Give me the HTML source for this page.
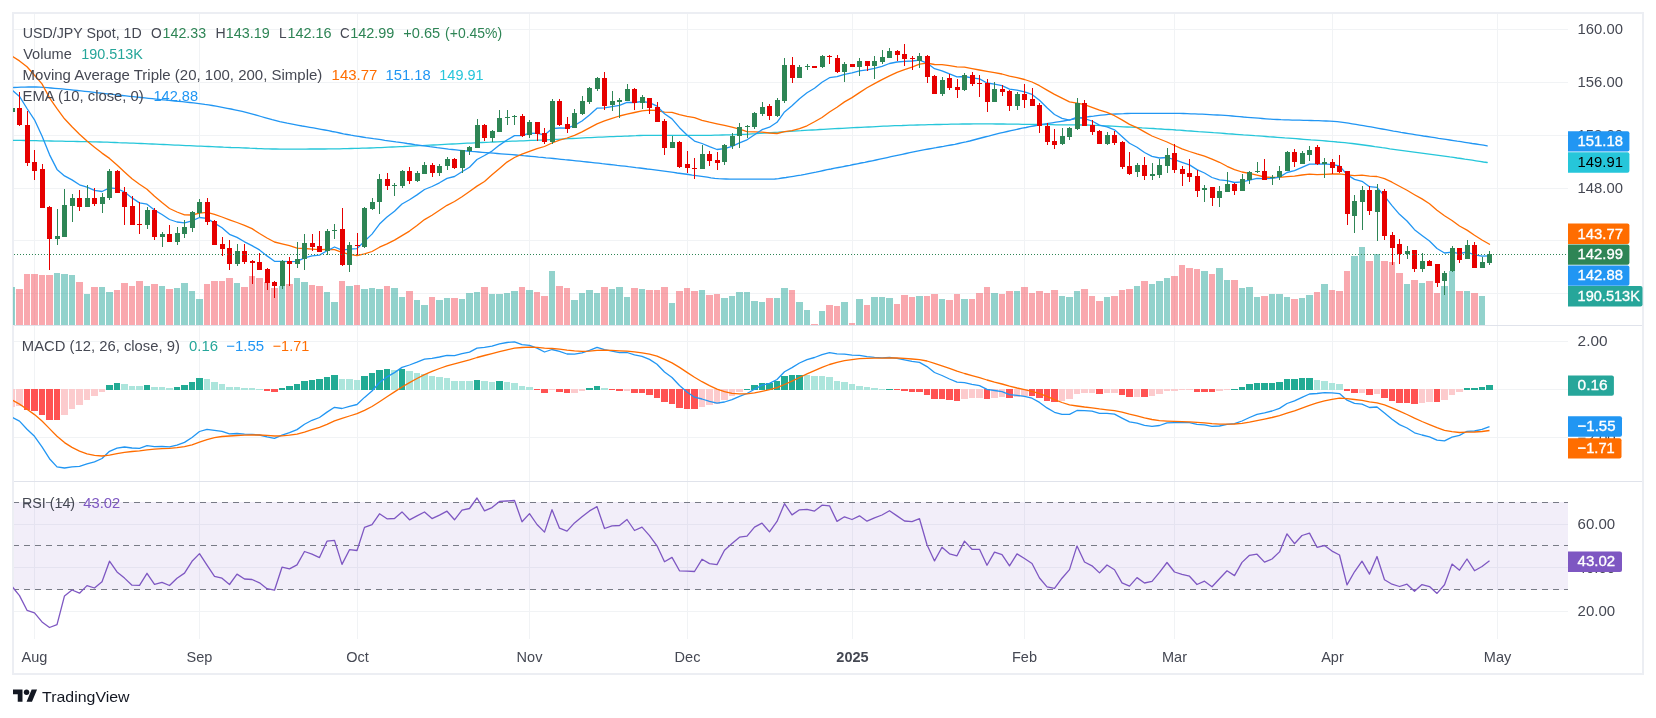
<!DOCTYPE html><html><head><meta charset="utf-8"><title>USD/JPY</title><style>html,body{margin:0;padding:0;background:#fff;width:1656px;height:718px;overflow:hidden}</style></head><body><svg width="1656" height="718" viewBox="0 0 1656 718" style="position:absolute;left:0;top:0;will-change:transform;font-family:'Liberation Sans',sans-serif">
<rect x="0" y="0" width="1656" height="718" fill="#fff"/>
<g shape-rendering="crispEdges" fill="#f1f3f5">
<rect x="34" y="13" width="1" height="626"/>
<rect x="199" y="13" width="1" height="626"/>
<rect x="357" y="13" width="1" height="626"/>
<rect x="529" y="13" width="1" height="626"/>
<rect x="687" y="13" width="1" height="626"/>
<rect x="852" y="13" width="1" height="626"/>
<rect x="1024" y="13" width="1" height="626"/>
<rect x="1174" y="13" width="1" height="626"/>
<rect x="1332" y="13" width="1" height="626"/>
<rect x="1497" y="13" width="1" height="626"/>
<rect x="14" y="29" width="1554" height="1"/>
<rect x="14" y="82" width="1554" height="1"/>
<rect x="14" y="135" width="1554" height="1"/>
<rect x="14" y="188" width="1554" height="1"/>
<rect x="14" y="240" width="1554" height="1"/>
<rect x="14" y="293" width="1554" height="1"/>
<rect x="14" y="341" width="1554" height="1"/>
<rect x="14" y="389" width="1554" height="1"/>
<rect x="14" y="437" width="1554" height="1"/>
<rect x="14" y="524" width="1554" height="1"/>
<rect x="14" y="567" width="1554" height="1"/>
<rect x="14" y="611" width="1554" height="1"/>
</g>
<rect x="14" y="502" width="1554" height="87.5" fill="#7e57c2" fill-opacity="0.1" shape-rendering="crispEdges"/>
<g shape-rendering="crispEdges" fill="#e0e3eb">
<g fill="#eceef3"><rect x="12" y="12" width="1632" height="2"/><rect x="12" y="673" width="1632" height="2"/><rect x="12" y="12" width="2" height="663"/><rect x="1642" y="12" width="2" height="663"/></g>
<rect x="14" y="325" width="1628" height="1"/>
<rect x="14" y="481" width="1628" height="1"/>
</g>
<defs><clipPath id="cp"><rect x="13" y="14" width="1555" height="311"/></clipPath><clipPath id="cm"><rect x="13" y="326" width="1555" height="155"/></clipPath><clipPath id="cr"><rect x="13" y="482" width="1555" height="156"/></clipPath></defs>
<g clip-path="url(#cp)" shape-rendering="crispEdges">
<rect x="9" y="287" width="6" height="38" fill="#26a69a" fill-opacity="0.5"/>
<rect x="16" y="289" width="7" height="36" fill="#f4525e" fill-opacity="0.5"/>
<rect x="24" y="274" width="6" height="51" fill="#f4525e" fill-opacity="0.5"/>
<rect x="31" y="274" width="7" height="51" fill="#f4525e" fill-opacity="0.5"/>
<rect x="39" y="275" width="6" height="50" fill="#f4525e" fill-opacity="0.5"/>
<rect x="46" y="275" width="7" height="50" fill="#f4525e" fill-opacity="0.5"/>
<rect x="54" y="273" width="6" height="52" fill="#26a69a" fill-opacity="0.5"/>
<rect x="61" y="274" width="7" height="51" fill="#26a69a" fill-opacity="0.5"/>
<rect x="69" y="275" width="6" height="50" fill="#26a69a" fill-opacity="0.5"/>
<rect x="76" y="282" width="7" height="43" fill="#f4525e" fill-opacity="0.5"/>
<rect x="84" y="294" width="6" height="31" fill="#26a69a" fill-opacity="0.5"/>
<rect x="91" y="287" width="7" height="38" fill="#f4525e" fill-opacity="0.5"/>
<rect x="99" y="287" width="6" height="38" fill="#26a69a" fill-opacity="0.5"/>
<rect x="106" y="292" width="7" height="33" fill="#26a69a" fill-opacity="0.5"/>
<rect x="114" y="290" width="6" height="35" fill="#f4525e" fill-opacity="0.5"/>
<rect x="121" y="283" width="7" height="42" fill="#f4525e" fill-opacity="0.5"/>
<rect x="129" y="286" width="6" height="39" fill="#f4525e" fill-opacity="0.5"/>
<rect x="136" y="281" width="7" height="44" fill="#f4525e" fill-opacity="0.5"/>
<rect x="144" y="286" width="6" height="39" fill="#26a69a" fill-opacity="0.5"/>
<rect x="151" y="284" width="7" height="41" fill="#f4525e" fill-opacity="0.5"/>
<rect x="159" y="286" width="6" height="39" fill="#26a69a" fill-opacity="0.5"/>
<rect x="166" y="289" width="7" height="36" fill="#f4525e" fill-opacity="0.5"/>
<rect x="174" y="288" width="6" height="37" fill="#26a69a" fill-opacity="0.5"/>
<rect x="181" y="283" width="7" height="42" fill="#26a69a" fill-opacity="0.5"/>
<rect x="189" y="291" width="6" height="34" fill="#26a69a" fill-opacity="0.5"/>
<rect x="196" y="299" width="7" height="26" fill="#26a69a" fill-opacity="0.5"/>
<rect x="204" y="284" width="6" height="41" fill="#f4525e" fill-opacity="0.5"/>
<rect x="211" y="281" width="7" height="44" fill="#f4525e" fill-opacity="0.5"/>
<rect x="219" y="281" width="6" height="44" fill="#f4525e" fill-opacity="0.5"/>
<rect x="226" y="278" width="7" height="47" fill="#f4525e" fill-opacity="0.5"/>
<rect x="234" y="283" width="6" height="42" fill="#26a69a" fill-opacity="0.5"/>
<rect x="241" y="287" width="7" height="38" fill="#f4525e" fill-opacity="0.5"/>
<rect x="249" y="276" width="6" height="49" fill="#f4525e" fill-opacity="0.5"/>
<rect x="256" y="278" width="7" height="47" fill="#f4525e" fill-opacity="0.5"/>
<rect x="264" y="282" width="6" height="43" fill="#f4525e" fill-opacity="0.5"/>
<rect x="271" y="288" width="7" height="37" fill="#f4525e" fill-opacity="0.5"/>
<rect x="279" y="286" width="6" height="39" fill="#26a69a" fill-opacity="0.5"/>
<rect x="286" y="284" width="7" height="41" fill="#f4525e" fill-opacity="0.5"/>
<rect x="294" y="278" width="6" height="47" fill="#26a69a" fill-opacity="0.5"/>
<rect x="301" y="282" width="7" height="43" fill="#26a69a" fill-opacity="0.5"/>
<rect x="309" y="285" width="6" height="40" fill="#f4525e" fill-opacity="0.5"/>
<rect x="316" y="286" width="7" height="39" fill="#f4525e" fill-opacity="0.5"/>
<rect x="324" y="292" width="6" height="33" fill="#26a69a" fill-opacity="0.5"/>
<rect x="331" y="302" width="7" height="23" fill="#26a69a" fill-opacity="0.5"/>
<rect x="339" y="281" width="6" height="44" fill="#f4525e" fill-opacity="0.5"/>
<rect x="346" y="286" width="7" height="39" fill="#26a69a" fill-opacity="0.5"/>
<rect x="354" y="285" width="6" height="40" fill="#f4525e" fill-opacity="0.5"/>
<rect x="361" y="289" width="7" height="36" fill="#26a69a" fill-opacity="0.5"/>
<rect x="369" y="288" width="6" height="37" fill="#26a69a" fill-opacity="0.5"/>
<rect x="376" y="289" width="7" height="36" fill="#26a69a" fill-opacity="0.5"/>
<rect x="384" y="286" width="6" height="39" fill="#f4525e" fill-opacity="0.5"/>
<rect x="391" y="288" width="7" height="37" fill="#26a69a" fill-opacity="0.5"/>
<rect x="399" y="297" width="6" height="28" fill="#26a69a" fill-opacity="0.5"/>
<rect x="406" y="291" width="7" height="34" fill="#f4525e" fill-opacity="0.5"/>
<rect x="414" y="300" width="6" height="25" fill="#26a69a" fill-opacity="0.5"/>
<rect x="421" y="305" width="7" height="20" fill="#26a69a" fill-opacity="0.5"/>
<rect x="429" y="297" width="6" height="28" fill="#f4525e" fill-opacity="0.5"/>
<rect x="436" y="300" width="7" height="25" fill="#26a69a" fill-opacity="0.5"/>
<rect x="444" y="298" width="6" height="27" fill="#26a69a" fill-opacity="0.5"/>
<rect x="451" y="298" width="7" height="27" fill="#f4525e" fill-opacity="0.5"/>
<rect x="459" y="299" width="6" height="26" fill="#26a69a" fill-opacity="0.5"/>
<rect x="466" y="293" width="7" height="32" fill="#26a69a" fill-opacity="0.5"/>
<rect x="474" y="292" width="6" height="33" fill="#26a69a" fill-opacity="0.5"/>
<rect x="481" y="287" width="7" height="38" fill="#f4525e" fill-opacity="0.5"/>
<rect x="489" y="294" width="6" height="31" fill="#26a69a" fill-opacity="0.5"/>
<rect x="496" y="294" width="7" height="31" fill="#26a69a" fill-opacity="0.5"/>
<rect x="504" y="293" width="6" height="32" fill="#26a69a" fill-opacity="0.5"/>
<rect x="511" y="291" width="7" height="34" fill="#26a69a" fill-opacity="0.5"/>
<rect x="519" y="287" width="6" height="38" fill="#f4525e" fill-opacity="0.5"/>
<rect x="526" y="290" width="7" height="35" fill="#26a69a" fill-opacity="0.5"/>
<rect x="534" y="292" width="6" height="33" fill="#f4525e" fill-opacity="0.5"/>
<rect x="541" y="296" width="7" height="29" fill="#f4525e" fill-opacity="0.5"/>
<rect x="549" y="271" width="6" height="54" fill="#26a69a" fill-opacity="0.5"/>
<rect x="556" y="286" width="7" height="39" fill="#f4525e" fill-opacity="0.5"/>
<rect x="564" y="288" width="6" height="37" fill="#f4525e" fill-opacity="0.5"/>
<rect x="571" y="300" width="7" height="25" fill="#26a69a" fill-opacity="0.5"/>
<rect x="579" y="293" width="6" height="32" fill="#26a69a" fill-opacity="0.5"/>
<rect x="586" y="290" width="7" height="35" fill="#26a69a" fill-opacity="0.5"/>
<rect x="594" y="293" width="6" height="32" fill="#26a69a" fill-opacity="0.5"/>
<rect x="601" y="287" width="7" height="38" fill="#f4525e" fill-opacity="0.5"/>
<rect x="609" y="289" width="6" height="36" fill="#26a69a" fill-opacity="0.5"/>
<rect x="616" y="287" width="7" height="38" fill="#26a69a" fill-opacity="0.5"/>
<rect x="624" y="297" width="6" height="28" fill="#26a69a" fill-opacity="0.5"/>
<rect x="631" y="288" width="7" height="37" fill="#f4525e" fill-opacity="0.5"/>
<rect x="639" y="289" width="6" height="36" fill="#26a69a" fill-opacity="0.5"/>
<rect x="646" y="290" width="7" height="35" fill="#f4525e" fill-opacity="0.5"/>
<rect x="654" y="290" width="6" height="35" fill="#f4525e" fill-opacity="0.5"/>
<rect x="661" y="287" width="7" height="38" fill="#f4525e" fill-opacity="0.5"/>
<rect x="669" y="303" width="6" height="22" fill="#26a69a" fill-opacity="0.5"/>
<rect x="676" y="291" width="7" height="34" fill="#f4525e" fill-opacity="0.5"/>
<rect x="684" y="288" width="6" height="37" fill="#f4525e" fill-opacity="0.5"/>
<rect x="691" y="291" width="7" height="34" fill="#f4525e" fill-opacity="0.5"/>
<rect x="699" y="290" width="6" height="35" fill="#26a69a" fill-opacity="0.5"/>
<rect x="706" y="295" width="7" height="30" fill="#f4525e" fill-opacity="0.5"/>
<rect x="714" y="294" width="6" height="31" fill="#f4525e" fill-opacity="0.5"/>
<rect x="721" y="298" width="7" height="27" fill="#26a69a" fill-opacity="0.5"/>
<rect x="729" y="296" width="6" height="29" fill="#26a69a" fill-opacity="0.5"/>
<rect x="736" y="292" width="7" height="33" fill="#26a69a" fill-opacity="0.5"/>
<rect x="744" y="292" width="6" height="33" fill="#26a69a" fill-opacity="0.5"/>
<rect x="751" y="301" width="7" height="24" fill="#26a69a" fill-opacity="0.5"/>
<rect x="759" y="302" width="6" height="23" fill="#26a69a" fill-opacity="0.5"/>
<rect x="766" y="298" width="7" height="27" fill="#f4525e" fill-opacity="0.5"/>
<rect x="774" y="298" width="6" height="27" fill="#26a69a" fill-opacity="0.5"/>
<rect x="781" y="288" width="7" height="37" fill="#26a69a" fill-opacity="0.5"/>
<rect x="789" y="290" width="6" height="35" fill="#f4525e" fill-opacity="0.5"/>
<rect x="796" y="302" width="7" height="23" fill="#26a69a" fill-opacity="0.5"/>
<rect x="804" y="310" width="6" height="15" fill="#26a69a" fill-opacity="0.5"/>
<rect x="811" y="324" width="7" height="1" fill="#f4525e" fill-opacity="0.5"/>
<rect x="819" y="311" width="6" height="14" fill="#26a69a" fill-opacity="0.5"/>
<rect x="826" y="305" width="7" height="20" fill="#f4525e" fill-opacity="0.5"/>
<rect x="834" y="306" width="6" height="19" fill="#f4525e" fill-opacity="0.5"/>
<rect x="841" y="302" width="7" height="23" fill="#26a69a" fill-opacity="0.5"/>
<rect x="849" y="323" width="6" height="2" fill="#f4525e" fill-opacity="0.5"/>
<rect x="856" y="299" width="7" height="26" fill="#26a69a" fill-opacity="0.5"/>
<rect x="864" y="305" width="6" height="20" fill="#f4525e" fill-opacity="0.5"/>
<rect x="871" y="297" width="7" height="28" fill="#26a69a" fill-opacity="0.5"/>
<rect x="879" y="297" width="6" height="28" fill="#26a69a" fill-opacity="0.5"/>
<rect x="886" y="298" width="7" height="27" fill="#26a69a" fill-opacity="0.5"/>
<rect x="894" y="304" width="6" height="21" fill="#f4525e" fill-opacity="0.5"/>
<rect x="901" y="295" width="7" height="30" fill="#f4525e" fill-opacity="0.5"/>
<rect x="909" y="297" width="6" height="28" fill="#f4525e" fill-opacity="0.5"/>
<rect x="916" y="296" width="7" height="29" fill="#26a69a" fill-opacity="0.5"/>
<rect x="924" y="296" width="6" height="29" fill="#f4525e" fill-opacity="0.5"/>
<rect x="931" y="294" width="7" height="31" fill="#f4525e" fill-opacity="0.5"/>
<rect x="939" y="299" width="6" height="26" fill="#26a69a" fill-opacity="0.5"/>
<rect x="946" y="300" width="7" height="25" fill="#f4525e" fill-opacity="0.5"/>
<rect x="954" y="294" width="6" height="31" fill="#f4525e" fill-opacity="0.5"/>
<rect x="961" y="299" width="7" height="26" fill="#26a69a" fill-opacity="0.5"/>
<rect x="969" y="299" width="6" height="26" fill="#f4525e" fill-opacity="0.5"/>
<rect x="976" y="293" width="7" height="32" fill="#f4525e" fill-opacity="0.5"/>
<rect x="984" y="287" width="6" height="38" fill="#f4525e" fill-opacity="0.5"/>
<rect x="991" y="293" width="7" height="32" fill="#26a69a" fill-opacity="0.5"/>
<rect x="999" y="294" width="6" height="31" fill="#f4525e" fill-opacity="0.5"/>
<rect x="1006" y="291" width="7" height="34" fill="#f4525e" fill-opacity="0.5"/>
<rect x="1014" y="291" width="6" height="34" fill="#26a69a" fill-opacity="0.5"/>
<rect x="1021" y="287" width="7" height="38" fill="#f4525e" fill-opacity="0.5"/>
<rect x="1029" y="293" width="6" height="32" fill="#f4525e" fill-opacity="0.5"/>
<rect x="1036" y="291" width="7" height="34" fill="#f4525e" fill-opacity="0.5"/>
<rect x="1044" y="293" width="6" height="32" fill="#f4525e" fill-opacity="0.5"/>
<rect x="1051" y="290" width="7" height="35" fill="#f4525e" fill-opacity="0.5"/>
<rect x="1059" y="296" width="6" height="29" fill="#26a69a" fill-opacity="0.5"/>
<rect x="1066" y="297" width="7" height="28" fill="#26a69a" fill-opacity="0.5"/>
<rect x="1074" y="291" width="6" height="34" fill="#26a69a" fill-opacity="0.5"/>
<rect x="1081" y="289" width="7" height="36" fill="#f4525e" fill-opacity="0.5"/>
<rect x="1089" y="296" width="6" height="29" fill="#f4525e" fill-opacity="0.5"/>
<rect x="1096" y="301" width="7" height="24" fill="#f4525e" fill-opacity="0.5"/>
<rect x="1104" y="297" width="6" height="28" fill="#26a69a" fill-opacity="0.5"/>
<rect x="1111" y="296" width="7" height="29" fill="#f4525e" fill-opacity="0.5"/>
<rect x="1119" y="290" width="6" height="35" fill="#f4525e" fill-opacity="0.5"/>
<rect x="1126" y="289" width="7" height="36" fill="#f4525e" fill-opacity="0.5"/>
<rect x="1134" y="286" width="6" height="39" fill="#26a69a" fill-opacity="0.5"/>
<rect x="1141" y="281" width="7" height="44" fill="#f4525e" fill-opacity="0.5"/>
<rect x="1149" y="284" width="6" height="41" fill="#26a69a" fill-opacity="0.5"/>
<rect x="1156" y="281" width="7" height="44" fill="#26a69a" fill-opacity="0.5"/>
<rect x="1164" y="278" width="6" height="47" fill="#26a69a" fill-opacity="0.5"/>
<rect x="1171" y="276" width="7" height="49" fill="#f4525e" fill-opacity="0.5"/>
<rect x="1179" y="265" width="6" height="60" fill="#f4525e" fill-opacity="0.5"/>
<rect x="1186" y="268" width="7" height="57" fill="#f4525e" fill-opacity="0.5"/>
<rect x="1194" y="269" width="6" height="56" fill="#f4525e" fill-opacity="0.5"/>
<rect x="1201" y="271" width="7" height="54" fill="#26a69a" fill-opacity="0.5"/>
<rect x="1209" y="274" width="6" height="51" fill="#f4525e" fill-opacity="0.5"/>
<rect x="1216" y="268" width="7" height="57" fill="#26a69a" fill-opacity="0.5"/>
<rect x="1224" y="280" width="6" height="45" fill="#26a69a" fill-opacity="0.5"/>
<rect x="1231" y="280" width="7" height="45" fill="#f4525e" fill-opacity="0.5"/>
<rect x="1239" y="288" width="6" height="37" fill="#26a69a" fill-opacity="0.5"/>
<rect x="1246" y="287" width="7" height="38" fill="#26a69a" fill-opacity="0.5"/>
<rect x="1254" y="297" width="6" height="28" fill="#26a69a" fill-opacity="0.5"/>
<rect x="1261" y="296" width="7" height="29" fill="#f4525e" fill-opacity="0.5"/>
<rect x="1269" y="294" width="6" height="31" fill="#26a69a" fill-opacity="0.5"/>
<rect x="1276" y="294" width="7" height="31" fill="#26a69a" fill-opacity="0.5"/>
<rect x="1284" y="297" width="6" height="28" fill="#26a69a" fill-opacity="0.5"/>
<rect x="1291" y="299" width="7" height="26" fill="#f4525e" fill-opacity="0.5"/>
<rect x="1299" y="298" width="6" height="27" fill="#26a69a" fill-opacity="0.5"/>
<rect x="1306" y="295" width="7" height="30" fill="#26a69a" fill-opacity="0.5"/>
<rect x="1314" y="292" width="6" height="33" fill="#f4525e" fill-opacity="0.5"/>
<rect x="1321" y="284" width="7" height="41" fill="#26a69a" fill-opacity="0.5"/>
<rect x="1329" y="290" width="6" height="35" fill="#f4525e" fill-opacity="0.5"/>
<rect x="1336" y="291" width="7" height="34" fill="#f4525e" fill-opacity="0.5"/>
<rect x="1344" y="271" width="6" height="54" fill="#f4525e" fill-opacity="0.5"/>
<rect x="1351" y="256" width="7" height="69" fill="#26a69a" fill-opacity="0.5"/>
<rect x="1359" y="247" width="6" height="78" fill="#26a69a" fill-opacity="0.5"/>
<rect x="1366" y="261" width="7" height="64" fill="#f4525e" fill-opacity="0.5"/>
<rect x="1374" y="254" width="6" height="71" fill="#26a69a" fill-opacity="0.5"/>
<rect x="1381" y="261" width="7" height="64" fill="#f4525e" fill-opacity="0.5"/>
<rect x="1389" y="262" width="6" height="63" fill="#f4525e" fill-opacity="0.5"/>
<rect x="1396" y="273" width="7" height="52" fill="#f4525e" fill-opacity="0.5"/>
<rect x="1404" y="284" width="6" height="41" fill="#26a69a" fill-opacity="0.5"/>
<rect x="1411" y="280" width="7" height="45" fill="#f4525e" fill-opacity="0.5"/>
<rect x="1419" y="283" width="6" height="42" fill="#26a69a" fill-opacity="0.5"/>
<rect x="1426" y="281" width="7" height="44" fill="#f4525e" fill-opacity="0.5"/>
<rect x="1434" y="293" width="6" height="32" fill="#f4525e" fill-opacity="0.5"/>
<rect x="1441" y="286" width="7" height="39" fill="#26a69a" fill-opacity="0.5"/>
<rect x="1449" y="271" width="6" height="54" fill="#26a69a" fill-opacity="0.5"/>
<rect x="1456" y="291" width="7" height="34" fill="#f4525e" fill-opacity="0.5"/>
<rect x="1464" y="291" width="6" height="34" fill="#26a69a" fill-opacity="0.5"/>
<rect x="1471" y="293" width="7" height="32" fill="#f4525e" fill-opacity="0.5"/>
<rect x="1479" y="296" width="6" height="29" fill="#26a69a" fill-opacity="0.5"/>
</g>
<g clip-path="url(#cp)" fill="none" stroke-width="1.3" stroke-linejoin="round" stroke-linecap="round">
<path d="M13.5,140.3 L17.2,140.4 L21.0,140.4 L24.8,140.5 L28.5,140.6 L32.2,140.7 L36.0,140.7 L39.8,140.8 L43.5,140.9 L47.2,140.9 L51.0,141.0 L54.8,141.1 L58.5,141.2 L62.2,141.2 L66.0,141.3 L69.8,141.3 L73.5,141.4 L77.2,141.5 L81.0,141.6 L84.8,141.6 L88.5,141.7 L92.2,141.8 L96.0,141.9 L99.8,142.0 L103.5,142.1 L107.2,142.2 L111.0,142.4 L114.8,142.5 L118.5,142.7 L122.2,142.8 L126.0,142.9 L129.8,143.1 L133.5,143.2 L137.2,143.4 L141.0,143.5 L144.8,143.7 L148.5,143.9 L152.2,144.0 L156.0,144.2 L159.8,144.4 L163.5,144.5 L167.2,144.7 L171.0,144.9 L174.8,145.1 L178.5,145.2 L182.2,145.4 L186.0,145.6 L189.8,145.7 L193.5,145.9 L197.2,146.1 L201.0,146.2 L204.8,146.4 L208.5,146.5 L212.2,146.7 L216.0,146.9 L219.8,147.0 L223.5,147.2 L227.2,147.3 L231.0,147.5 L234.8,147.6 L238.5,147.7 L242.2,147.9 L246.0,148.0 L249.8,148.2 L253.5,148.3 L257.2,148.5 L261.0,148.6 L264.8,148.8 L268.5,148.9 L272.2,149.0 L276.0,149.0 L279.8,149.1 L283.5,149.1 L287.2,149.1 L291.0,149.1 L294.8,149.1 L298.5,149.1 L302.2,149.1 L306.0,149.1 L309.8,149.0 L313.5,149.0 L317.2,149.0 L321.0,149.0 L324.8,149.0 L328.5,148.9 L332.2,148.9 L336.0,148.8 L339.8,148.8 L343.5,148.7 L347.2,148.6 L351.0,148.5 L354.8,148.4 L358.5,148.3 L362.2,148.2 L366.0,148.1 L369.8,148.0 L373.5,147.9 L377.2,147.7 L381.0,147.6 L384.8,147.4 L388.5,147.2 L392.2,147.0 L396.0,146.8 L399.8,146.6 L403.5,146.5 L407.2,146.3 L411.0,146.1 L414.8,145.9 L418.5,145.7 L422.2,145.6 L426.0,145.4 L429.8,145.2 L433.5,145.0 L437.2,144.8 L441.0,144.6 L444.8,144.4 L448.5,144.2 L452.2,144.0 L456.0,143.8 L459.8,143.6 L463.5,143.4 L467.2,143.2 L471.0,143.1 L474.8,142.9 L478.5,142.7 L482.2,142.5 L486.0,142.3 L489.8,142.2 L493.5,142.0 L497.2,141.9 L501.0,141.7 L504.8,141.5 L508.5,141.4 L512.2,141.2 L516.0,141.1 L519.8,140.9 L523.5,140.8 L527.2,140.6 L531.0,140.4 L534.8,140.3 L538.5,140.1 L542.2,140.0 L546.0,139.8 L549.8,139.6 L553.5,139.4 L557.2,139.3 L561.0,139.1 L564.8,138.9 L568.5,138.7 L572.2,138.5 L576.0,138.3 L579.8,138.1 L583.5,137.9 L587.2,137.7 L591.0,137.6 L594.8,137.4 L598.5,137.2 L602.2,137.1 L606.0,136.9 L609.8,136.7 L613.5,136.6 L617.2,136.4 L621.0,136.3 L624.8,136.1 L628.5,136.0 L632.2,135.8 L636.0,135.7 L639.8,135.5 L643.5,135.4 L647.2,135.4 L651.0,135.3 L654.8,135.3 L658.5,135.3 L662.2,135.3 L666.0,135.3 L669.8,135.3 L673.5,135.3 L677.2,135.4 L681.0,135.4 L684.8,135.4 L688.5,135.4 L692.2,135.4 L696.0,135.4 L699.8,135.4 L703.5,135.4 L707.2,135.4 L711.0,135.3 L714.8,135.2 L718.5,135.1 L722.2,135.0 L726.0,134.9 L729.8,134.8 L733.5,134.7 L737.2,134.5 L741.0,134.4 L744.8,134.3 L748.5,134.1 L752.2,133.9 L756.0,133.7 L759.8,133.4 L763.5,133.2 L767.2,132.9 L771.0,132.6 L774.8,132.3 L778.5,132.1 L782.2,131.8 L786.0,131.6 L789.8,131.3 L793.5,131.1 L797.2,130.9 L801.0,130.7 L804.8,130.4 L808.5,130.2 L812.2,130.0 L816.0,129.8 L819.8,129.5 L823.5,129.3 L827.2,129.1 L831.0,128.9 L834.8,128.7 L838.5,128.5 L842.2,128.3 L846.0,128.1 L849.8,127.9 L853.5,127.7 L857.2,127.5 L861.0,127.4 L864.8,127.2 L868.5,127.0 L872.2,126.8 L876.0,126.6 L879.8,126.4 L883.5,126.2 L887.2,126.1 L891.0,125.9 L894.8,125.7 L898.5,125.6 L902.2,125.5 L906.0,125.3 L909.8,125.2 L913.5,125.1 L917.2,125.0 L921.0,124.9 L924.8,124.8 L928.5,124.7 L932.2,124.6 L936.0,124.5 L939.8,124.5 L943.5,124.4 L947.2,124.3 L951.0,124.2 L954.8,124.2 L958.5,124.1 L962.2,124.0 L966.0,124.0 L969.8,124.0 L973.5,123.9 L977.2,123.9 L981.0,123.9 L984.8,123.9 L988.5,123.9 L992.2,123.9 L996.0,124.0 L999.8,124.0 L1003.5,124.0 L1007.2,124.1 L1011.0,124.1 L1014.8,124.2 L1018.5,124.2 L1022.2,124.3 L1026.0,124.3 L1029.8,124.3 L1033.5,124.4 L1037.2,124.5 L1041.0,124.5 L1044.8,124.6 L1048.5,124.6 L1052.2,124.7 L1056.0,124.8 L1059.8,124.8 L1063.5,124.8 L1067.2,124.9 L1071.0,124.9 L1074.8,124.9 L1078.5,124.9 L1082.2,125.0 L1086.0,125.0 L1089.8,125.1 L1093.5,125.3 L1097.2,125.4 L1101.0,125.6 L1104.8,125.8 L1108.5,126.0 L1112.2,126.2 L1116.0,126.4 L1119.8,126.6 L1123.5,126.8 L1127.2,127.0 L1131.0,127.2 L1134.8,127.4 L1138.5,127.6 L1142.2,127.9 L1146.0,128.1 L1149.8,128.3 L1153.5,128.5 L1157.2,128.8 L1161.0,129.0 L1164.8,129.3 L1168.5,129.5 L1172.2,129.7 L1176.0,130.0 L1179.8,130.2 L1183.5,130.5 L1187.2,130.8 L1191.0,131.0 L1194.8,131.3 L1198.5,131.6 L1202.2,131.8 L1206.0,132.1 L1209.8,132.4 L1213.5,132.7 L1217.2,132.9 L1221.0,133.2 L1224.8,133.5 L1228.5,133.8 L1232.2,134.0 L1236.0,134.3 L1239.8,134.6 L1243.5,134.9 L1247.2,135.1 L1251.0,135.4 L1254.8,135.7 L1258.5,135.9 L1262.2,136.2 L1266.0,136.5 L1269.8,136.8 L1273.5,137.0 L1277.2,137.3 L1281.0,137.6 L1284.8,137.9 L1288.5,138.1 L1292.2,138.4 L1296.0,138.7 L1299.8,139.0 L1303.5,139.3 L1307.2,139.6 L1311.0,139.9 L1314.8,140.1 L1318.5,140.4 L1322.2,140.7 L1326.0,141.0 L1329.8,141.3 L1333.5,141.6 L1337.2,142.0 L1341.0,142.3 L1344.8,142.7 L1348.5,143.1 L1352.2,143.5 L1356.0,144.0 L1359.8,144.5 L1363.5,145.0 L1367.2,145.5 L1371.0,146.0 L1374.8,146.6 L1378.5,147.1 L1382.2,147.7 L1386.0,148.2 L1389.8,148.8 L1393.5,149.3 L1397.2,149.8 L1401.0,150.3 L1404.8,150.8 L1408.5,151.3 L1412.2,151.8 L1416.0,152.3 L1419.8,152.8 L1423.5,153.3 L1427.2,153.8 L1431.0,154.3 L1434.8,154.8 L1438.5,155.3 L1442.2,155.8 L1446.0,156.3 L1449.8,156.9 L1453.5,157.4 L1457.2,158.0 L1461.0,158.5 L1464.8,159.1 L1468.5,159.6 L1472.2,160.2 L1476.0,160.8 L1479.8,161.4 L1483.5,162.0 L1487.2,162.5" stroke="#26c6da"/>
<path d="M13.6,87.5 L17.2,87.3 L21.0,87.1 L24.8,87.1 L28.5,87.0 L32.2,87.0 L36.0,87.0 L39.8,87.1 L43.5,87.4 L47.2,87.7 L51.0,88.0 L54.8,88.3 L58.5,88.6 L62.2,88.9 L66.0,89.3 L69.8,89.7 L73.5,90.1 L77.2,90.5 L81.0,90.9 L84.8,91.3 L88.5,91.7 L92.2,92.1 L96.0,92.6 L99.8,93.0 L103.5,93.4 L107.2,93.8 L111.0,94.2 L114.8,94.7 L118.5,95.1 L122.2,95.5 L126.0,95.9 L129.8,96.3 L133.5,96.7 L137.2,97.1 L141.0,97.5 L144.8,97.9 L148.5,98.3 L152.2,98.7 L156.0,99.1 L159.8,99.5 L163.5,99.8 L167.2,100.2 L171.0,100.6 L174.8,101.0 L178.5,101.3 L182.2,101.7 L186.0,102.1 L189.8,102.5 L193.5,102.9 L197.2,103.3 L201.0,103.8 L204.8,104.4 L208.5,104.9 L212.2,105.5 L216.0,106.2 L219.8,106.9 L223.5,107.6 L227.2,108.3 L231.0,109.0 L234.8,109.8 L238.5,110.6 L242.2,111.4 L246.0,112.3 L249.8,113.3 L253.5,114.3 L257.2,115.4 L261.0,116.5 L264.8,117.6 L268.5,118.6 L272.2,119.7 L276.0,120.6 L279.8,121.6 L283.5,122.4 L287.2,123.2 L291.0,123.9 L294.8,124.6 L298.5,125.3 L302.2,126.0 L306.0,126.6 L309.8,127.3 L313.5,127.9 L317.2,128.6 L321.0,129.3 L324.8,130.0 L328.5,130.7 L332.2,131.5 L336.0,132.2 L339.8,133.0 L343.5,133.8 L347.2,134.5 L351.0,135.2 L354.8,135.8 L358.5,136.4 L362.2,137.0 L366.0,137.6 L369.8,138.1 L373.5,138.7 L377.2,139.2 L381.0,139.7 L384.8,140.3 L388.5,140.8 L392.2,141.3 L396.0,141.9 L399.8,142.4 L403.5,142.9 L407.2,143.5 L411.0,144.0 L414.8,144.6 L418.5,145.1 L422.2,145.6 L426.0,146.1 L429.8,146.7 L433.5,147.2 L437.2,147.7 L441.0,148.1 L444.8,148.6 L448.5,149.1 L452.2,149.5 L456.0,149.9 L459.8,150.3 L463.5,150.7 L467.2,151.0 L471.0,151.4 L474.8,151.7 L478.5,152.0 L482.2,152.3 L486.0,152.6 L489.8,152.9 L493.5,153.2 L497.2,153.5 L501.0,153.8 L504.8,154.1 L508.5,154.4 L512.2,154.7 L516.0,155.0 L519.8,155.3 L523.5,155.7 L527.2,156.0 L531.0,156.3 L534.8,156.7 L538.5,157.1 L542.2,157.4 L546.0,157.8 L549.8,158.1 L553.5,158.5 L557.2,158.9 L561.0,159.3 L564.8,159.7 L568.5,160.0 L572.2,160.4 L576.0,160.8 L579.8,161.2 L583.5,161.6 L587.2,162.0 L591.0,162.4 L594.8,162.8 L598.5,163.2 L602.2,163.7 L606.0,164.1 L609.8,164.5 L613.5,164.9 L617.2,165.4 L621.0,165.8 L624.8,166.2 L628.5,166.7 L632.2,167.1 L636.0,167.6 L639.8,168.0 L643.5,168.5 L647.2,169.0 L651.0,169.4 L654.8,169.9 L658.5,170.4 L662.2,170.9 L666.0,171.4 L669.8,171.9 L673.5,172.4 L677.2,173.0 L681.0,173.5 L684.8,174.0 L688.5,174.5 L692.2,175.1 L696.0,175.6 L699.8,176.1 L703.5,176.6 L707.2,177.2 L711.0,177.8 L714.8,178.3 L718.5,178.7 L722.2,178.9 L726.0,179.0 L729.8,179.1 L733.5,179.1 L737.2,179.2 L741.0,179.2 L744.8,179.2 L748.5,179.2 L752.2,179.2 L756.0,179.2 L759.8,179.2 L763.5,179.2 L767.2,179.2 L771.0,179.2 L774.8,179.0 L778.5,178.6 L782.2,178.0 L786.0,177.5 L789.8,176.9 L793.5,176.3 L797.2,175.7 L801.0,175.1 L804.8,174.4 L808.5,173.6 L812.2,172.8 L816.0,172.1 L819.8,171.3 L823.5,170.5 L827.2,169.7 L831.0,169.0 L834.8,168.2 L838.5,167.5 L842.2,166.8 L846.0,166.0 L849.8,165.3 L853.5,164.5 L857.2,163.8 L861.0,163.0 L864.8,162.3 L868.5,161.5 L872.2,160.8 L876.0,160.0 L879.8,159.2 L883.5,158.4 L887.2,157.6 L891.0,156.7 L894.8,155.9 L898.5,155.1 L902.2,154.3 L906.0,153.5 L909.8,152.7 L913.5,151.9 L917.2,151.1 L921.0,150.4 L924.8,149.7 L928.5,149.0 L932.2,148.3 L936.0,147.7 L939.8,147.0 L943.5,146.4 L947.2,145.7 L951.0,145.0 L954.8,144.3 L958.5,143.5 L962.2,142.7 L966.0,141.9 L969.8,141.0 L973.5,140.0 L977.2,139.0 L981.0,138.0 L984.8,137.0 L988.5,136.1 L992.2,135.1 L996.0,134.1 L999.8,133.2 L1003.5,132.3 L1007.2,131.5 L1011.0,130.6 L1014.8,129.8 L1018.5,129.0 L1022.2,128.2 L1026.0,127.5 L1029.8,126.7 L1033.5,126.0 L1037.2,125.3 L1041.0,124.6 L1044.8,124.0 L1048.5,123.4 L1052.2,122.8 L1056.0,122.2 L1059.8,121.6 L1063.5,121.0 L1067.2,120.3 L1071.0,119.6 L1074.8,118.9 L1078.5,118.2 L1082.2,117.6 L1086.0,117.1 L1089.8,116.5 L1093.5,116.1 L1097.2,115.6 L1101.0,115.2 L1104.8,114.8 L1108.5,114.4 L1112.2,114.2 L1116.0,114.0 L1119.8,113.8 L1123.5,113.7 L1127.2,113.5 L1131.0,113.4 L1134.8,113.3 L1138.5,113.3 L1142.2,113.3 L1146.0,113.3 L1149.8,113.3 L1153.5,113.3 L1157.2,113.3 L1161.0,113.3 L1164.8,113.3 L1168.5,113.3 L1172.2,113.3 L1176.0,113.3 L1179.8,113.4 L1183.5,113.5 L1187.2,113.6 L1191.0,113.8 L1194.8,113.9 L1198.5,114.1 L1202.2,114.2 L1206.0,114.4 L1209.8,114.6 L1213.5,114.8 L1217.2,115.0 L1221.0,115.2 L1224.8,115.4 L1228.5,115.7 L1232.2,116.0 L1236.0,116.3 L1239.8,116.6 L1243.5,117.0 L1247.2,117.3 L1251.0,117.6 L1254.8,117.9 L1258.5,118.2 L1262.2,118.5 L1266.0,118.8 L1269.8,119.1 L1273.5,119.3 L1277.2,119.5 L1281.0,119.7 L1284.8,119.8 L1288.5,119.9 L1292.2,120.1 L1296.0,120.2 L1299.8,120.2 L1303.5,120.3 L1307.2,120.4 L1311.0,120.5 L1314.8,120.6 L1318.5,120.7 L1322.2,120.8 L1326.0,121.0 L1329.8,121.2 L1333.5,121.4 L1337.2,121.7 L1341.0,122.1 L1344.8,122.6 L1348.5,123.2 L1352.2,123.8 L1356.0,124.4 L1359.8,125.1 L1363.5,125.7 L1367.2,126.3 L1371.0,126.9 L1374.8,127.6 L1378.5,128.3 L1382.2,129.0 L1386.0,129.7 L1389.8,130.4 L1393.5,131.1 L1397.2,131.7 L1401.0,132.4 L1404.8,133.0 L1408.5,133.6 L1412.2,134.2 L1416.0,134.8 L1419.8,135.4 L1423.5,136.0 L1427.2,136.5 L1431.0,137.1 L1434.8,137.7 L1438.5,138.3 L1442.2,138.8 L1446.0,139.4 L1449.8,140.0 L1453.5,140.6 L1457.2,141.2 L1461.0,141.7 L1464.8,142.3 L1468.5,142.9 L1472.2,143.5 L1476.0,144.0 L1479.8,144.6 L1483.5,145.2 L1487.2,145.8" stroke="#2196f3"/>
<path d="M12.0,56.2 L19.5,60.9 L27.0,66.8 L34.5,75.2 L42.0,83.9 L49.5,97.8 L57.0,108.7 L64.5,118.8 L72.0,126.8 L79.5,134.2 L87.0,141.1 L94.5,147.2 L102.0,153.1 L109.5,158.4 L117.0,165.0 L124.5,172.0 L132.0,178.8 L139.5,184.2 L147.0,189.2 L154.5,196.3 L162.0,202.6 L169.5,208.5 L177.0,212.0 L184.5,214.8 L192.0,215.0 L199.5,213.1 L207.0,212.4 L214.5,214.4 L222.0,217.0 L229.5,219.8 L237.0,222.5 L244.5,225.3 L252.0,228.6 L259.5,233.5 L267.0,238.0 L274.5,242.0 L282.0,243.8 L289.5,245.7 L297.0,248.2 L304.5,248.5 L312.0,249.1 L319.5,249.6 L327.0,249.5 L334.5,249.7 L342.0,252.3 L349.5,254.4 L357.0,255.6 L364.5,253.8 L372.0,251.5 L379.5,247.2 L387.0,243.9 L394.5,240.1 L402.0,235.6 L409.5,231.1 L417.0,225.6 L424.5,219.6 L432.0,215.2 L439.5,210.3 L447.0,205.3 L454.5,201.5 L462.0,196.7 L469.5,191.5 L477.0,186.1 L484.5,181.5 L492.0,174.8 L499.5,168.5 L507.0,162.1 L514.5,157.5 L522.0,154.2 L529.5,151.3 L537.0,148.7 L544.5,146.5 L552.0,143.0 L559.5,140.2 L567.0,138.0 L574.5,135.4 L582.0,131.8 L589.5,127.9 L597.0,123.9 L604.5,120.8 L612.0,118.3 L619.5,116.0 L627.0,114.2 L634.5,112.5 L642.0,110.8 L649.5,110.2 L657.0,110.5 L664.5,112.1 L672.0,112.4 L679.5,114.6 L687.0,116.4 L694.5,117.7 L702.0,120.4 L709.5,122.2 L717.0,123.8 L724.5,125.4 L732.0,127.2 L739.5,129.2 L747.0,131.6 L754.5,131.9 L762.0,132.2 L769.5,133.0 L777.0,133.5 L784.5,131.6 L792.0,130.7 L799.5,128.6 L807.0,125.8 L814.5,121.8 L822.0,117.5 L829.5,112.0 L837.0,107.2 L844.5,101.9 L852.0,97.6 L859.5,92.6 L867.0,87.8 L874.5,83.6 L882.0,79.6 L889.5,75.8 L897.0,72.3 L904.5,69.6 L912.0,67.2 L919.5,64.2 L927.0,63.1 L934.5,64.5 L942.0,64.6 L949.5,65.7 L957.0,66.9 L964.5,67.2 L972.0,68.6 L979.5,70.0 L987.0,71.4 L994.5,72.7 L1002.0,74.0 L1009.5,76.2 L1017.0,77.6 L1024.5,79.5 L1032.0,82.0 L1039.5,85.7 L1047.0,90.1 L1054.5,94.4 L1062.0,98.2 L1069.5,101.8 L1077.0,103.1 L1084.5,104.7 L1092.0,107.3 L1099.5,110.1 L1107.0,112.3 L1114.5,115.7 L1122.0,119.9 L1129.5,124.4 L1137.0,127.6 L1144.5,131.9 L1152.0,136.0 L1159.5,139.0 L1167.0,142.0 L1174.5,145.5 L1182.0,148.9 L1189.5,151.5 L1197.0,153.9 L1204.5,156.1 L1212.0,159.1 L1219.5,162.3 L1227.0,166.3 L1234.5,169.6 L1242.0,172.0 L1249.5,173.4 L1257.0,175.2 L1264.5,177.0 L1272.0,177.5 L1279.5,177.4 L1287.0,176.7 L1294.5,176.1 L1302.0,175.0 L1309.5,174.2 L1317.0,174.7 L1324.5,174.3 L1332.0,174.0 L1339.5,173.8 L1347.0,174.9 L1354.5,175.6 L1362.0,175.2 L1369.5,176.2 L1377.0,176.5 L1384.5,178.7 L1392.0,182.2 L1399.5,186.3 L1407.0,190.3 L1414.5,194.7 L1422.0,198.9 L1429.5,203.7 L1437.0,210.2 L1444.5,215.8 L1452.0,220.5 L1459.5,226.0 L1467.0,230.1 L1474.5,235.3 L1482.0,240.0 L1489.5,244.2" stroke="#ff6d00"/>
<path d="M12.0,90.0 L19.5,96.4 L27.0,108.5 L34.5,119.8 L42.0,135.9 L49.5,154.6 L57.0,169.4 L64.5,175.9 L72.0,179.9 L79.5,184.8 L87.0,187.2 L94.5,190.3 L102.0,191.5 L109.5,187.8 L117.0,188.6 L124.5,192.0 L132.0,197.9 L139.5,202.9 L147.0,204.2 L154.5,210.1 L162.0,214.5 L169.5,219.5 L177.0,222.0 L184.5,222.9 L192.0,220.9 L199.5,217.5 L207.0,218.3 L214.5,223.1 L222.0,227.8 L229.5,234.3 L237.0,237.4 L244.5,241.8 L252.0,245.6 L259.5,249.9 L267.0,255.9 L274.5,261.3 L282.0,261.3 L289.5,261.7 L297.0,261.3 L304.5,257.9 L312.0,255.9 L319.5,255.1 L327.0,250.8 L334.5,247.0 L342.0,250.2 L349.5,249.2 L357.0,248.6 L364.5,241.2 L372.0,234.1 L379.5,224.1 L387.0,217.1 L394.5,211.3 L402.0,204.0 L409.5,199.8 L417.0,194.9 L424.5,189.5 L432.0,186.5 L439.5,182.8 L447.0,178.4 L454.5,176.5 L462.0,171.7 L469.5,167.2 L477.0,159.5 L484.5,155.5 L492.0,151.1 L499.5,145.1 L507.0,140.0 L514.5,135.6 L522.0,135.7 L529.5,133.2 L537.0,133.3 L544.5,134.9 L552.0,128.7 L559.5,128.0 L567.0,128.1 L574.5,125.4 L582.0,121.0 L589.5,114.9 L597.0,108.2 L604.5,107.8 L612.0,106.6 L619.5,105.4 L627.0,102.4 L634.5,102.5 L642.0,101.5 L649.5,102.6 L657.0,106.1 L664.5,113.8 L672.0,118.9 L679.5,127.7 L687.0,135.0 L694.5,141.1 L702.0,143.5 L709.5,146.6 L717.0,149.5 L724.5,148.7 L732.0,146.4 L739.5,142.9 L747.0,139.8 L754.5,134.8 L762.0,129.7 L769.5,127.2 L777.0,122.3 L784.5,111.9 L792.0,105.7 L799.5,98.7 L807.0,92.7 L814.5,88.2 L822.0,82.3 L829.5,77.7 L837.0,76.6 L844.5,74.3 L852.0,72.9 L859.5,70.8 L867.0,69.9 L874.5,68.3 L882.0,66.3 L889.5,63.5 L897.0,62.0 L904.5,61.4 L912.0,61.0 L919.5,60.1 L927.0,63.1 L934.5,68.7 L942.0,70.8 L949.5,73.9 L957.0,76.8 L964.5,76.5 L972.0,77.8 L979.5,78.9 L987.0,83.0 L994.5,84.1 L1002.0,85.6 L1009.5,89.2 L1017.0,90.1 L1024.5,91.8 L1032.0,94.4 L1039.5,100.2 L1047.0,107.8 L1054.5,114.5 L1062.0,118.4 L1069.5,120.2 L1077.0,117.1 L1084.5,118.6 L1092.0,121.0 L1099.5,125.1 L1107.0,126.9 L1114.5,129.8 L1122.0,136.5 L1129.5,143.3 L1137.0,147.3 L1144.5,152.5 L1152.0,156.4 L1159.5,158.0 L1167.0,157.5 L1174.5,159.7 L1182.0,162.3 L1189.5,164.9 L1197.0,169.6 L1204.5,173.0 L1212.0,177.5 L1219.5,179.9 L1227.0,180.6 L1234.5,182.5 L1242.0,181.9 L1249.5,180.1 L1257.0,178.4 L1264.5,178.7 L1272.0,178.4 L1279.5,177.1 L1287.0,172.5 L1294.5,170.6 L1302.0,167.4 L1309.5,164.2 L1317.0,164.2 L1324.5,163.8 L1332.0,164.6 L1339.5,165.9 L1347.0,174.6 L1354.5,179.4 L1362.0,181.3 L1369.5,186.7 L1377.0,187.3 L1384.5,196.2 L1392.0,205.6 L1399.5,214.3 L1407.0,221.0 L1414.5,229.7 L1422.0,235.4 L1429.5,241.0 L1437.0,248.5 L1444.5,253.0 L1452.0,252.1 L1459.5,253.6 L1467.0,252.0 L1474.5,254.8 L1482.0,256.2 L1489.5,255.8" stroke="#2196f3"/>
</g>
<g clip-path="url(#cp)" shape-rendering="crispEdges">
<rect x="12" y="108" width="1" height="5" fill="#2e8555"/>
<rect x="10" y="108" width="5" height="4" fill="#2e8555"/>
<rect x="19" y="92" width="1" height="34" fill="#e60000"/>
<rect x="17" y="108" width="5" height="17" fill="#e60000"/>
<rect x="27" y="111" width="1" height="55" fill="#e60000"/>
<rect x="25" y="125" width="5" height="38" fill="#e60000"/>
<rect x="34" y="150" width="1" height="30" fill="#e60000"/>
<rect x="32" y="162" width="5" height="9" fill="#e60000"/>
<rect x="42" y="164" width="1" height="44" fill="#e60000"/>
<rect x="40" y="169" width="5" height="39" fill="#e60000"/>
<rect x="49" y="206" width="1" height="64" fill="#e60000"/>
<rect x="47" y="207" width="5" height="32" fill="#e60000"/>
<rect x="57" y="209" width="1" height="36" fill="#2e8555"/>
<rect x="55" y="236" width="5" height="3" fill="#2e8555"/>
<rect x="64" y="189" width="1" height="48" fill="#2e8555"/>
<rect x="62" y="205" width="5" height="32" fill="#2e8555"/>
<rect x="72" y="194" width="1" height="28" fill="#2e8555"/>
<rect x="70" y="198" width="5" height="8" fill="#2e8555"/>
<rect x="79" y="190" width="1" height="21" fill="#e60000"/>
<rect x="77" y="198" width="5" height="9" fill="#e60000"/>
<rect x="87" y="185" width="1" height="22" fill="#2e8555"/>
<rect x="85" y="198" width="5" height="9" fill="#2e8555"/>
<rect x="94" y="188" width="1" height="18" fill="#e60000"/>
<rect x="92" y="198" width="5" height="6" fill="#e60000"/>
<rect x="102" y="193" width="1" height="20" fill="#2e8555"/>
<rect x="100" y="197" width="5" height="7" fill="#2e8555"/>
<rect x="109" y="169" width="1" height="31" fill="#2e8555"/>
<rect x="107" y="171" width="5" height="27" fill="#2e8555"/>
<rect x="117" y="170" width="1" height="23" fill="#e60000"/>
<rect x="115" y="171" width="5" height="22" fill="#e60000"/>
<rect x="124" y="187" width="1" height="38" fill="#e60000"/>
<rect x="122" y="192" width="5" height="15" fill="#e60000"/>
<rect x="132" y="196" width="1" height="29" fill="#e60000"/>
<rect x="130" y="206" width="5" height="19" fill="#e60000"/>
<rect x="139" y="202" width="1" height="32" fill="#e60000"/>
<rect x="137" y="224" width="5" height="1" fill="#e60000"/>
<rect x="147" y="207" width="1" height="22" fill="#2e8555"/>
<rect x="145" y="210" width="5" height="15" fill="#2e8555"/>
<rect x="154" y="208" width="1" height="32" fill="#e60000"/>
<rect x="152" y="210" width="5" height="27" fill="#e60000"/>
<rect x="162" y="232" width="1" height="15" fill="#2e8555"/>
<rect x="160" y="234" width="5" height="3" fill="#2e8555"/>
<rect x="169" y="225" width="1" height="17" fill="#e60000"/>
<rect x="167" y="234" width="5" height="8" fill="#e60000"/>
<rect x="177" y="227" width="1" height="18" fill="#2e8555"/>
<rect x="175" y="233" width="5" height="9" fill="#2e8555"/>
<rect x="184" y="220" width="1" height="18" fill="#2e8555"/>
<rect x="182" y="227" width="5" height="7" fill="#2e8555"/>
<rect x="192" y="211" width="1" height="21" fill="#2e8555"/>
<rect x="190" y="212" width="5" height="16" fill="#2e8555"/>
<rect x="199" y="199" width="1" height="18" fill="#2e8555"/>
<rect x="197" y="202" width="5" height="11" fill="#2e8555"/>
<rect x="207" y="198" width="1" height="27" fill="#e60000"/>
<rect x="205" y="202" width="5" height="20" fill="#e60000"/>
<rect x="214" y="220" width="1" height="25" fill="#e60000"/>
<rect x="212" y="221" width="5" height="24" fill="#e60000"/>
<rect x="222" y="237" width="1" height="19" fill="#e60000"/>
<rect x="220" y="244" width="5" height="5" fill="#e60000"/>
<rect x="229" y="240" width="1" height="30" fill="#e60000"/>
<rect x="227" y="248" width="5" height="16" fill="#e60000"/>
<rect x="237" y="244" width="1" height="22" fill="#2e8555"/>
<rect x="235" y="251" width="5" height="13" fill="#2e8555"/>
<rect x="244" y="244" width="1" height="20" fill="#e60000"/>
<rect x="242" y="251" width="5" height="11" fill="#e60000"/>
<rect x="252" y="260" width="1" height="24" fill="#e60000"/>
<rect x="250" y="261" width="5" height="2" fill="#e60000"/>
<rect x="259" y="253" width="1" height="17" fill="#e60000"/>
<rect x="257" y="262" width="5" height="8" fill="#e60000"/>
<rect x="267" y="268" width="1" height="22" fill="#e60000"/>
<rect x="265" y="269" width="5" height="14" fill="#e60000"/>
<rect x="274" y="281" width="1" height="17" fill="#e60000"/>
<rect x="272" y="282" width="5" height="4" fill="#e60000"/>
<rect x="282" y="260" width="1" height="29" fill="#2e8555"/>
<rect x="280" y="261" width="5" height="25" fill="#2e8555"/>
<rect x="289" y="257" width="1" height="29" fill="#e60000"/>
<rect x="287" y="261" width="5" height="3" fill="#e60000"/>
<rect x="297" y="242" width="1" height="26" fill="#2e8555"/>
<rect x="295" y="259" width="5" height="5" fill="#2e8555"/>
<rect x="304" y="234" width="1" height="36" fill="#2e8555"/>
<rect x="302" y="243" width="5" height="16" fill="#2e8555"/>
<rect x="312" y="234" width="1" height="17" fill="#e60000"/>
<rect x="310" y="243" width="5" height="4" fill="#e60000"/>
<rect x="319" y="231" width="1" height="21" fill="#e60000"/>
<rect x="317" y="246" width="5" height="6" fill="#e60000"/>
<rect x="327" y="229" width="1" height="26" fill="#2e8555"/>
<rect x="325" y="231" width="5" height="20" fill="#2e8555"/>
<rect x="334" y="224" width="1" height="15" fill="#2e8555"/>
<rect x="332" y="230" width="5" height="1" fill="#2e8555"/>
<rect x="342" y="208" width="1" height="58" fill="#e60000"/>
<rect x="340" y="229" width="5" height="36" fill="#e60000"/>
<rect x="349" y="242" width="1" height="30" fill="#2e8555"/>
<rect x="347" y="245" width="5" height="20" fill="#2e8555"/>
<rect x="357" y="233" width="1" height="22" fill="#e60000"/>
<rect x="355" y="245" width="5" height="1" fill="#e60000"/>
<rect x="364" y="207" width="1" height="41" fill="#2e8555"/>
<rect x="362" y="208" width="5" height="39" fill="#2e8555"/>
<rect x="372" y="198" width="1" height="12" fill="#2e8555"/>
<rect x="370" y="202" width="5" height="7" fill="#2e8555"/>
<rect x="379" y="174" width="1" height="40" fill="#2e8555"/>
<rect x="377" y="179" width="5" height="23" fill="#2e8555"/>
<rect x="387" y="173" width="1" height="17" fill="#e60000"/>
<rect x="385" y="179" width="5" height="7" fill="#e60000"/>
<rect x="394" y="183" width="1" height="13" fill="#2e8555"/>
<rect x="392" y="185" width="5" height="1" fill="#2e8555"/>
<rect x="402" y="170" width="1" height="18" fill="#2e8555"/>
<rect x="400" y="171" width="5" height="15" fill="#2e8555"/>
<rect x="409" y="167" width="1" height="17" fill="#e60000"/>
<rect x="407" y="171" width="5" height="10" fill="#e60000"/>
<rect x="417" y="171" width="1" height="11" fill="#2e8555"/>
<rect x="415" y="173" width="5" height="8" fill="#2e8555"/>
<rect x="424" y="162" width="1" height="12" fill="#2e8555"/>
<rect x="422" y="165" width="5" height="9" fill="#2e8555"/>
<rect x="432" y="163" width="1" height="14" fill="#e60000"/>
<rect x="430" y="165" width="5" height="8" fill="#e60000"/>
<rect x="439" y="164" width="1" height="12" fill="#2e8555"/>
<rect x="437" y="166" width="5" height="7" fill="#2e8555"/>
<rect x="447" y="157" width="1" height="13" fill="#2e8555"/>
<rect x="445" y="159" width="5" height="7" fill="#2e8555"/>
<rect x="454" y="158" width="1" height="11" fill="#e60000"/>
<rect x="452" y="159" width="5" height="9" fill="#e60000"/>
<rect x="462" y="150" width="1" height="23" fill="#2e8555"/>
<rect x="460" y="150" width="5" height="18" fill="#2e8555"/>
<rect x="469" y="146" width="1" height="9" fill="#2e8555"/>
<rect x="467" y="147" width="5" height="4" fill="#2e8555"/>
<rect x="477" y="119" width="1" height="29" fill="#2e8555"/>
<rect x="475" y="125" width="5" height="23" fill="#2e8555"/>
<rect x="484" y="124" width="1" height="17" fill="#e60000"/>
<rect x="482" y="125" width="5" height="13" fill="#e60000"/>
<rect x="492" y="130" width="1" height="12" fill="#2e8555"/>
<rect x="490" y="131" width="5" height="7" fill="#2e8555"/>
<rect x="499" y="110" width="1" height="22" fill="#2e8555"/>
<rect x="497" y="118" width="5" height="14" fill="#2e8555"/>
<rect x="507" y="110" width="1" height="15" fill="#2e8555"/>
<rect x="505" y="117" width="5" height="1" fill="#2e8555"/>
<rect x="514" y="115" width="1" height="10" fill="#2e8555"/>
<rect x="512" y="116" width="5" height="1" fill="#2e8555"/>
<rect x="522" y="114" width="1" height="23" fill="#e60000"/>
<rect x="520" y="116" width="5" height="20" fill="#e60000"/>
<rect x="529" y="120" width="1" height="18" fill="#2e8555"/>
<rect x="527" y="122" width="5" height="13" fill="#2e8555"/>
<rect x="537" y="122" width="1" height="19" fill="#e60000"/>
<rect x="535" y="122" width="5" height="12" fill="#e60000"/>
<rect x="544" y="128" width="1" height="16" fill="#e60000"/>
<rect x="542" y="133" width="5" height="9" fill="#e60000"/>
<rect x="552" y="99" width="1" height="45" fill="#2e8555"/>
<rect x="550" y="101" width="5" height="41" fill="#2e8555"/>
<rect x="559" y="99" width="1" height="27" fill="#e60000"/>
<rect x="557" y="101" width="5" height="24" fill="#e60000"/>
<rect x="567" y="117" width="1" height="16" fill="#e60000"/>
<rect x="565" y="124" width="5" height="5" fill="#e60000"/>
<rect x="574" y="109" width="1" height="19" fill="#2e8555"/>
<rect x="572" y="113" width="5" height="15" fill="#2e8555"/>
<rect x="582" y="96" width="1" height="19" fill="#2e8555"/>
<rect x="580" y="101" width="5" height="13" fill="#2e8555"/>
<rect x="589" y="87" width="1" height="17" fill="#2e8555"/>
<rect x="587" y="88" width="5" height="14" fill="#2e8555"/>
<rect x="597" y="77" width="1" height="14" fill="#2e8555"/>
<rect x="595" y="78" width="5" height="11" fill="#2e8555"/>
<rect x="604" y="72" width="1" height="38" fill="#e60000"/>
<rect x="602" y="78" width="5" height="28" fill="#e60000"/>
<rect x="612" y="91" width="1" height="20" fill="#2e8555"/>
<rect x="610" y="101" width="5" height="4" fill="#2e8555"/>
<rect x="619" y="98" width="1" height="20" fill="#2e8555"/>
<rect x="617" y="100" width="5" height="2" fill="#2e8555"/>
<rect x="627" y="84" width="1" height="17" fill="#2e8555"/>
<rect x="625" y="89" width="5" height="12" fill="#2e8555"/>
<rect x="634" y="88" width="1" height="22" fill="#e60000"/>
<rect x="632" y="89" width="5" height="14" fill="#e60000"/>
<rect x="642" y="95" width="1" height="14" fill="#2e8555"/>
<rect x="640" y="97" width="5" height="6" fill="#2e8555"/>
<rect x="649" y="98" width="1" height="16" fill="#e60000"/>
<rect x="647" y="98" width="5" height="10" fill="#e60000"/>
<rect x="657" y="102" width="1" height="20" fill="#e60000"/>
<rect x="655" y="107" width="5" height="15" fill="#e60000"/>
<rect x="664" y="119" width="1" height="36" fill="#e60000"/>
<rect x="662" y="121" width="5" height="27" fill="#e60000"/>
<rect x="672" y="136" width="1" height="12" fill="#2e8555"/>
<rect x="670" y="142" width="5" height="6" fill="#2e8555"/>
<rect x="679" y="141" width="1" height="27" fill="#e60000"/>
<rect x="677" y="142" width="5" height="25" fill="#e60000"/>
<rect x="687" y="151" width="1" height="22" fill="#e60000"/>
<rect x="685" y="164" width="5" height="4" fill="#e60000"/>
<rect x="694" y="158" width="1" height="21" fill="#e60000"/>
<rect x="692" y="168" width="5" height="1" fill="#e60000"/>
<rect x="702" y="145" width="1" height="24" fill="#2e8555"/>
<rect x="700" y="154" width="5" height="15" fill="#2e8555"/>
<rect x="709" y="151" width="1" height="15" fill="#e60000"/>
<rect x="707" y="154" width="5" height="7" fill="#e60000"/>
<rect x="717" y="152" width="1" height="18" fill="#e60000"/>
<rect x="715" y="160" width="5" height="3" fill="#e60000"/>
<rect x="724" y="144" width="1" height="21" fill="#2e8555"/>
<rect x="722" y="145" width="5" height="17" fill="#2e8555"/>
<rect x="732" y="133" width="1" height="16" fill="#2e8555"/>
<rect x="730" y="136" width="5" height="10" fill="#2e8555"/>
<rect x="739" y="123" width="1" height="25" fill="#2e8555"/>
<rect x="737" y="127" width="5" height="9" fill="#2e8555"/>
<rect x="747" y="125" width="1" height="13" fill="#2e8555"/>
<rect x="745" y="126" width="5" height="1" fill="#2e8555"/>
<rect x="754" y="112" width="1" height="17" fill="#2e8555"/>
<rect x="752" y="113" width="5" height="14" fill="#2e8555"/>
<rect x="762" y="102" width="1" height="14" fill="#2e8555"/>
<rect x="760" y="107" width="5" height="7" fill="#2e8555"/>
<rect x="769" y="104" width="1" height="16" fill="#e60000"/>
<rect x="767" y="106" width="5" height="10" fill="#e60000"/>
<rect x="777" y="98" width="1" height="19" fill="#2e8555"/>
<rect x="775" y="100" width="5" height="16" fill="#2e8555"/>
<rect x="784" y="58" width="1" height="45" fill="#2e8555"/>
<rect x="782" y="65" width="5" height="36" fill="#2e8555"/>
<rect x="792" y="57" width="1" height="26" fill="#e60000"/>
<rect x="790" y="65" width="5" height="13" fill="#e60000"/>
<rect x="799" y="65" width="1" height="13" fill="#2e8555"/>
<rect x="797" y="67" width="5" height="11" fill="#2e8555"/>
<rect x="807" y="64" width="1" height="6" fill="#2e8555"/>
<rect x="805" y="66" width="5" height="1" fill="#2e8555"/>
<rect x="814" y="66" width="1" height="2" fill="#e60000"/>
<rect x="812" y="66" width="5" height="2" fill="#e60000"/>
<rect x="822" y="55" width="1" height="13" fill="#2e8555"/>
<rect x="820" y="56" width="5" height="11" fill="#2e8555"/>
<rect x="829" y="55" width="1" height="9" fill="#e60000"/>
<rect x="827" y="56" width="5" height="1" fill="#e60000"/>
<rect x="837" y="55" width="1" height="18" fill="#e60000"/>
<rect x="835" y="58" width="5" height="14" fill="#e60000"/>
<rect x="844" y="62" width="1" height="20" fill="#2e8555"/>
<rect x="842" y="64" width="5" height="8" fill="#2e8555"/>
<rect x="852" y="64" width="1" height="3" fill="#e60000"/>
<rect x="850" y="64" width="5" height="3" fill="#e60000"/>
<rect x="859" y="58" width="1" height="18" fill="#2e8555"/>
<rect x="857" y="61" width="5" height="6" fill="#2e8555"/>
<rect x="867" y="61" width="1" height="10" fill="#e60000"/>
<rect x="865" y="61" width="5" height="5" fill="#e60000"/>
<rect x="874" y="56" width="1" height="23" fill="#2e8555"/>
<rect x="872" y="61" width="5" height="5" fill="#2e8555"/>
<rect x="882" y="50" width="1" height="14" fill="#2e8555"/>
<rect x="880" y="57" width="5" height="5" fill="#2e8555"/>
<rect x="889" y="48" width="1" height="10" fill="#2e8555"/>
<rect x="887" y="51" width="5" height="7" fill="#2e8555"/>
<rect x="897" y="50" width="1" height="11" fill="#e60000"/>
<rect x="895" y="51" width="5" height="4" fill="#e60000"/>
<rect x="904" y="44" width="1" height="22" fill="#e60000"/>
<rect x="902" y="54" width="5" height="5" fill="#e60000"/>
<rect x="912" y="56" width="1" height="14" fill="#e60000"/>
<rect x="910" y="58" width="5" height="1" fill="#e60000"/>
<rect x="919" y="53" width="1" height="15" fill="#2e8555"/>
<rect x="917" y="56" width="5" height="5" fill="#2e8555"/>
<rect x="927" y="55" width="1" height="28" fill="#e60000"/>
<rect x="925" y="56" width="5" height="21" fill="#e60000"/>
<rect x="934" y="75" width="1" height="19" fill="#e60000"/>
<rect x="932" y="76" width="5" height="18" fill="#e60000"/>
<rect x="942" y="77" width="1" height="19" fill="#2e8555"/>
<rect x="940" y="80" width="5" height="14" fill="#2e8555"/>
<rect x="949" y="74" width="1" height="16" fill="#e60000"/>
<rect x="947" y="78" width="5" height="10" fill="#e60000"/>
<rect x="957" y="79" width="1" height="19" fill="#e60000"/>
<rect x="955" y="87" width="5" height="3" fill="#e60000"/>
<rect x="964" y="73" width="1" height="18" fill="#2e8555"/>
<rect x="962" y="75" width="5" height="15" fill="#2e8555"/>
<rect x="972" y="72" width="1" height="14" fill="#e60000"/>
<rect x="970" y="75" width="5" height="9" fill="#e60000"/>
<rect x="979" y="75" width="1" height="22" fill="#e60000"/>
<rect x="977" y="83" width="5" height="1" fill="#e60000"/>
<rect x="987" y="79" width="1" height="33" fill="#e60000"/>
<rect x="985" y="83" width="5" height="19" fill="#e60000"/>
<rect x="994" y="82" width="1" height="20" fill="#2e8555"/>
<rect x="992" y="89" width="5" height="13" fill="#2e8555"/>
<rect x="1002" y="85" width="1" height="11" fill="#e60000"/>
<rect x="1000" y="89" width="5" height="3" fill="#e60000"/>
<rect x="1009" y="90" width="1" height="21" fill="#e60000"/>
<rect x="1007" y="91" width="5" height="15" fill="#e60000"/>
<rect x="1017" y="92" width="1" height="18" fill="#2e8555"/>
<rect x="1015" y="94" width="5" height="12" fill="#2e8555"/>
<rect x="1024" y="84" width="1" height="24" fill="#e60000"/>
<rect x="1022" y="94" width="5" height="6" fill="#e60000"/>
<rect x="1032" y="88" width="1" height="18" fill="#e60000"/>
<rect x="1030" y="99" width="5" height="7" fill="#e60000"/>
<rect x="1039" y="103" width="1" height="30" fill="#e60000"/>
<rect x="1037" y="105" width="5" height="21" fill="#e60000"/>
<rect x="1047" y="123" width="1" height="22" fill="#e60000"/>
<rect x="1045" y="126" width="5" height="16" fill="#e60000"/>
<rect x="1054" y="129" width="1" height="20" fill="#e60000"/>
<rect x="1052" y="141" width="5" height="4" fill="#e60000"/>
<rect x="1062" y="128" width="1" height="17" fill="#2e8555"/>
<rect x="1060" y="136" width="5" height="8" fill="#2e8555"/>
<rect x="1069" y="127" width="1" height="13" fill="#2e8555"/>
<rect x="1067" y="128" width="5" height="9" fill="#2e8555"/>
<rect x="1077" y="98" width="1" height="32" fill="#2e8555"/>
<rect x="1075" y="103" width="5" height="26" fill="#2e8555"/>
<rect x="1084" y="100" width="1" height="26" fill="#e60000"/>
<rect x="1082" y="103" width="5" height="23" fill="#e60000"/>
<rect x="1092" y="120" width="1" height="15" fill="#e60000"/>
<rect x="1090" y="125" width="5" height="7" fill="#e60000"/>
<rect x="1099" y="130" width="1" height="14" fill="#e60000"/>
<rect x="1097" y="131" width="5" height="13" fill="#e60000"/>
<rect x="1107" y="132" width="1" height="13" fill="#2e8555"/>
<rect x="1105" y="135" width="5" height="9" fill="#2e8555"/>
<rect x="1114" y="131" width="1" height="14" fill="#e60000"/>
<rect x="1112" y="135" width="5" height="8" fill="#e60000"/>
<rect x="1122" y="141" width="1" height="28" fill="#e60000"/>
<rect x="1120" y="142" width="5" height="25" fill="#e60000"/>
<rect x="1129" y="152" width="1" height="23" fill="#e60000"/>
<rect x="1127" y="166" width="5" height="8" fill="#e60000"/>
<rect x="1137" y="163" width="1" height="14" fill="#2e8555"/>
<rect x="1135" y="165" width="5" height="7" fill="#2e8555"/>
<rect x="1144" y="157" width="1" height="23" fill="#e60000"/>
<rect x="1142" y="165" width="5" height="11" fill="#e60000"/>
<rect x="1152" y="163" width="1" height="17" fill="#2e8555"/>
<rect x="1150" y="174" width="5" height="2" fill="#2e8555"/>
<rect x="1159" y="159" width="1" height="19" fill="#2e8555"/>
<rect x="1157" y="165" width="5" height="10" fill="#2e8555"/>
<rect x="1167" y="148" width="1" height="25" fill="#2e8555"/>
<rect x="1165" y="155" width="5" height="11" fill="#2e8555"/>
<rect x="1174" y="144" width="1" height="29" fill="#e60000"/>
<rect x="1172" y="153" width="5" height="17" fill="#e60000"/>
<rect x="1182" y="166" width="1" height="20" fill="#e60000"/>
<rect x="1180" y="169" width="5" height="5" fill="#e60000"/>
<rect x="1189" y="159" width="1" height="23" fill="#e60000"/>
<rect x="1187" y="173" width="5" height="4" fill="#e60000"/>
<rect x="1197" y="170" width="1" height="27" fill="#e60000"/>
<rect x="1195" y="176" width="5" height="15" fill="#e60000"/>
<rect x="1204" y="185" width="1" height="17" fill="#2e8555"/>
<rect x="1202" y="188" width="5" height="2" fill="#2e8555"/>
<rect x="1212" y="187" width="1" height="19" fill="#e60000"/>
<rect x="1210" y="187" width="5" height="11" fill="#e60000"/>
<rect x="1219" y="186" width="1" height="21" fill="#2e8555"/>
<rect x="1217" y="191" width="5" height="7" fill="#2e8555"/>
<rect x="1227" y="172" width="1" height="20" fill="#2e8555"/>
<rect x="1225" y="184" width="5" height="8" fill="#2e8555"/>
<rect x="1234" y="183" width="1" height="12" fill="#e60000"/>
<rect x="1232" y="184" width="5" height="7" fill="#e60000"/>
<rect x="1242" y="174" width="1" height="17" fill="#2e8555"/>
<rect x="1240" y="179" width="5" height="12" fill="#2e8555"/>
<rect x="1249" y="171" width="1" height="13" fill="#2e8555"/>
<rect x="1247" y="172" width="5" height="8" fill="#2e8555"/>
<rect x="1257" y="162" width="1" height="11" fill="#2e8555"/>
<rect x="1255" y="171" width="5" height="1" fill="#2e8555"/>
<rect x="1264" y="159" width="1" height="21" fill="#e60000"/>
<rect x="1262" y="171" width="5" height="9" fill="#e60000"/>
<rect x="1272" y="175" width="1" height="10" fill="#2e8555"/>
<rect x="1270" y="177" width="5" height="1" fill="#2e8555"/>
<rect x="1279" y="166" width="1" height="14" fill="#2e8555"/>
<rect x="1277" y="171" width="5" height="6" fill="#2e8555"/>
<rect x="1287" y="151" width="1" height="20" fill="#2e8555"/>
<rect x="1285" y="152" width="5" height="19" fill="#2e8555"/>
<rect x="1294" y="149" width="1" height="18" fill="#e60000"/>
<rect x="1292" y="152" width="5" height="10" fill="#e60000"/>
<rect x="1302" y="151" width="1" height="13" fill="#2e8555"/>
<rect x="1300" y="153" width="5" height="11" fill="#2e8555"/>
<rect x="1309" y="146" width="1" height="15" fill="#2e8555"/>
<rect x="1307" y="150" width="5" height="5" fill="#2e8555"/>
<rect x="1317" y="145" width="1" height="20" fill="#e60000"/>
<rect x="1315" y="147" width="5" height="17" fill="#e60000"/>
<rect x="1324" y="158" width="1" height="20" fill="#2e8555"/>
<rect x="1322" y="162" width="5" height="2" fill="#2e8555"/>
<rect x="1332" y="159" width="1" height="15" fill="#e60000"/>
<rect x="1330" y="162" width="5" height="6" fill="#e60000"/>
<rect x="1339" y="155" width="1" height="18" fill="#e60000"/>
<rect x="1337" y="166" width="5" height="6" fill="#e60000"/>
<rect x="1347" y="171" width="1" height="54" fill="#e60000"/>
<rect x="1345" y="171" width="5" height="43" fill="#e60000"/>
<rect x="1354" y="195" width="1" height="38" fill="#2e8555"/>
<rect x="1352" y="201" width="5" height="15" fill="#2e8555"/>
<rect x="1362" y="186" width="1" height="44" fill="#2e8555"/>
<rect x="1360" y="190" width="5" height="12" fill="#2e8555"/>
<rect x="1369" y="186" width="1" height="29" fill="#e60000"/>
<rect x="1367" y="190" width="5" height="21" fill="#e60000"/>
<rect x="1377" y="184" width="1" height="57" fill="#2e8555"/>
<rect x="1375" y="190" width="5" height="22" fill="#2e8555"/>
<rect x="1384" y="189" width="1" height="51" fill="#e60000"/>
<rect x="1382" y="191" width="5" height="45" fill="#e60000"/>
<rect x="1392" y="232" width="1" height="33" fill="#e60000"/>
<rect x="1390" y="235" width="5" height="13" fill="#e60000"/>
<rect x="1399" y="239" width="1" height="25" fill="#e60000"/>
<rect x="1397" y="244" width="5" height="10" fill="#e60000"/>
<rect x="1407" y="246" width="1" height="13" fill="#2e8555"/>
<rect x="1405" y="251" width="5" height="3" fill="#2e8555"/>
<rect x="1414" y="250" width="1" height="22" fill="#e60000"/>
<rect x="1412" y="250" width="5" height="19" fill="#e60000"/>
<rect x="1422" y="253" width="1" height="19" fill="#2e8555"/>
<rect x="1420" y="261" width="5" height="8" fill="#2e8555"/>
<rect x="1429" y="260" width="1" height="6" fill="#e60000"/>
<rect x="1427" y="261" width="5" height="5" fill="#e60000"/>
<rect x="1437" y="264" width="1" height="23" fill="#e60000"/>
<rect x="1435" y="264" width="5" height="19" fill="#e60000"/>
<rect x="1444" y="271" width="1" height="24" fill="#2e8555"/>
<rect x="1442" y="273" width="5" height="8" fill="#2e8555"/>
<rect x="1452" y="246" width="1" height="26" fill="#2e8555"/>
<rect x="1450" y="248" width="5" height="23" fill="#2e8555"/>
<rect x="1459" y="248" width="1" height="15" fill="#e60000"/>
<rect x="1457" y="248" width="5" height="12" fill="#e60000"/>
<rect x="1467" y="240" width="1" height="19" fill="#2e8555"/>
<rect x="1465" y="245" width="5" height="14" fill="#2e8555"/>
<rect x="1474" y="242" width="1" height="26" fill="#e60000"/>
<rect x="1472" y="245" width="5" height="23" fill="#e60000"/>
<rect x="1482" y="257" width="1" height="11" fill="#2e8555"/>
<rect x="1480" y="262" width="5" height="6" fill="#2e8555"/>
<rect x="1489" y="251" width="1" height="14" fill="#2e8555"/>
<rect x="1487" y="254" width="5" height="9" fill="#2e8555"/>
</g>
<line x1="14" x2="1568" y1="254.5" y2="254.5" stroke="#2e8555" stroke-width="1" stroke-dasharray="1 2" shape-rendering="crispEdges"/>
<g clip-path="url(#cm)" shape-rendering="crispEdges">
<rect x="9" y="389" width="6" height="18" fill="#fccbcd"/>
<rect x="16" y="389" width="7" height="17" fill="#fccbcd"/>
<rect x="24" y="389" width="6" height="21" fill="#ff5252"/>
<rect x="31" y="389" width="7" height="22" fill="#ff5252"/>
<rect x="39" y="389" width="6" height="26" fill="#ff5252"/>
<rect x="46" y="389" width="7" height="31" fill="#ff5252"/>
<rect x="54" y="389" width="6" height="31" fill="#ff5252"/>
<rect x="61" y="389" width="7" height="26" fill="#fccbcd"/>
<rect x="69" y="389" width="6" height="20" fill="#fccbcd"/>
<rect x="76" y="389" width="7" height="16" fill="#fccbcd"/>
<rect x="84" y="389" width="6" height="11" fill="#fccbcd"/>
<rect x="91" y="389" width="7" height="7" fill="#fccbcd"/>
<rect x="99" y="389" width="6" height="3" fill="#fccbcd"/>
<rect x="106" y="385" width="7" height="5" fill="#22ab94"/>
<rect x="114" y="383" width="6" height="7" fill="#22ab94"/>
<rect x="121" y="384" width="7" height="6" fill="#ace5dc"/>
<rect x="129" y="386" width="6" height="4" fill="#ace5dc"/>
<rect x="136" y="386" width="7" height="4" fill="#ace5dc"/>
<rect x="144" y="385" width="6" height="5" fill="#22ab94"/>
<rect x="151" y="387" width="7" height="3" fill="#ace5dc"/>
<rect x="159" y="387" width="6" height="3" fill="#ace5dc"/>
<rect x="166" y="388" width="7" height="2" fill="#ace5dc"/>
<rect x="174" y="387" width="6" height="3" fill="#22ab94"/>
<rect x="181" y="385" width="7" height="5" fill="#22ab94"/>
<rect x="189" y="382" width="6" height="8" fill="#22ab94"/>
<rect x="196" y="378" width="7" height="12" fill="#22ab94"/>
<rect x="204" y="379" width="6" height="11" fill="#ace5dc"/>
<rect x="211" y="382" width="7" height="8" fill="#ace5dc"/>
<rect x="219" y="384" width="6" height="6" fill="#ace5dc"/>
<rect x="226" y="387" width="7" height="3" fill="#ace5dc"/>
<rect x="234" y="387" width="6" height="3" fill="#ace5dc"/>
<rect x="241" y="388" width="7" height="2" fill="#ace5dc"/>
<rect x="249" y="388" width="6" height="2" fill="#ace5dc"/>
<rect x="256" y="389" width="7" height="1" fill="#ace5dc"/>
<rect x="264" y="389" width="6" height="2" fill="#ff5252"/>
<rect x="271" y="389" width="7" height="3" fill="#ff5252"/>
<rect x="279" y="388" width="6" height="2" fill="#22ab94"/>
<rect x="286" y="386" width="7" height="4" fill="#22ab94"/>
<rect x="294" y="384" width="6" height="6" fill="#22ab94"/>
<rect x="301" y="381" width="7" height="9" fill="#22ab94"/>
<rect x="309" y="380" width="6" height="10" fill="#22ab94"/>
<rect x="316" y="379" width="7" height="11" fill="#22ab94"/>
<rect x="324" y="377" width="6" height="13" fill="#22ab94"/>
<rect x="331" y="375" width="7" height="15" fill="#22ab94"/>
<rect x="339" y="379" width="6" height="11" fill="#ace5dc"/>
<rect x="346" y="379" width="7" height="11" fill="#ace5dc"/>
<rect x="354" y="380" width="6" height="10" fill="#ace5dc"/>
<rect x="361" y="376" width="7" height="14" fill="#22ab94"/>
<rect x="369" y="373" width="6" height="17" fill="#22ab94"/>
<rect x="376" y="370" width="7" height="20" fill="#22ab94"/>
<rect x="384" y="369" width="6" height="21" fill="#22ab94"/>
<rect x="391" y="370" width="7" height="20" fill="#ace5dc"/>
<rect x="399" y="369" width="6" height="21" fill="#22ab94"/>
<rect x="406" y="371" width="7" height="19" fill="#ace5dc"/>
<rect x="414" y="373" width="6" height="17" fill="#ace5dc"/>
<rect x="421" y="374" width="7" height="16" fill="#ace5dc"/>
<rect x="429" y="376" width="6" height="14" fill="#ace5dc"/>
<rect x="436" y="377" width="7" height="13" fill="#ace5dc"/>
<rect x="444" y="378" width="6" height="12" fill="#ace5dc"/>
<rect x="451" y="381" width="7" height="9" fill="#ace5dc"/>
<rect x="459" y="381" width="6" height="9" fill="#ace5dc"/>
<rect x="466" y="381" width="7" height="9" fill="#ace5dc"/>
<rect x="474" y="380" width="6" height="10" fill="#22ab94"/>
<rect x="481" y="381" width="7" height="9" fill="#ace5dc"/>
<rect x="489" y="382" width="6" height="8" fill="#ace5dc"/>
<rect x="496" y="381" width="7" height="9" fill="#22ab94"/>
<rect x="504" y="382" width="6" height="8" fill="#ace5dc"/>
<rect x="511" y="383" width="7" height="7" fill="#ace5dc"/>
<rect x="519" y="386" width="6" height="4" fill="#ace5dc"/>
<rect x="526" y="387" width="7" height="3" fill="#ace5dc"/>
<rect x="534" y="389" width="6" height="1" fill="#ff5252"/>
<rect x="541" y="389" width="7" height="4" fill="#ff5252"/>
<rect x="549" y="389" width="6" height="1" fill="#fccbcd"/>
<rect x="556" y="389" width="7" height="3" fill="#ff5252"/>
<rect x="564" y="389" width="6" height="4" fill="#ff5252"/>
<rect x="571" y="389" width="7" height="4" fill="#fccbcd"/>
<rect x="579" y="389" width="6" height="2" fill="#fccbcd"/>
<rect x="586" y="388" width="7" height="2" fill="#22ab94"/>
<rect x="594" y="386" width="6" height="4" fill="#22ab94"/>
<rect x="601" y="388" width="7" height="2" fill="#ace5dc"/>
<rect x="609" y="389" width="6" height="1" fill="#ff5252"/>
<rect x="616" y="389" width="7" height="2" fill="#ff5252"/>
<rect x="624" y="389" width="6" height="2" fill="#fccbcd"/>
<rect x="631" y="389" width="7" height="4" fill="#ff5252"/>
<rect x="639" y="389" width="6" height="4" fill="#ff5252"/>
<rect x="646" y="389" width="7" height="6" fill="#ff5252"/>
<rect x="654" y="389" width="6" height="9" fill="#ff5252"/>
<rect x="661" y="389" width="7" height="13" fill="#ff5252"/>
<rect x="669" y="389" width="6" height="15" fill="#ff5252"/>
<rect x="676" y="389" width="7" height="19" fill="#ff5252"/>
<rect x="684" y="389" width="6" height="20" fill="#ff5252"/>
<rect x="691" y="389" width="7" height="20" fill="#ff5252"/>
<rect x="699" y="389" width="6" height="18" fill="#fccbcd"/>
<rect x="706" y="389" width="7" height="16" fill="#fccbcd"/>
<rect x="714" y="389" width="6" height="15" fill="#fccbcd"/>
<rect x="721" y="389" width="7" height="11" fill="#fccbcd"/>
<rect x="729" y="389" width="6" height="7" fill="#fccbcd"/>
<rect x="736" y="389" width="7" height="3" fill="#fccbcd"/>
<rect x="744" y="389" width="6" height="1" fill="#22ab94"/>
<rect x="751" y="385" width="7" height="5" fill="#22ab94"/>
<rect x="759" y="383" width="6" height="7" fill="#22ab94"/>
<rect x="766" y="383" width="7" height="7" fill="#22ab94"/>
<rect x="774" y="381" width="6" height="9" fill="#22ab94"/>
<rect x="781" y="376" width="7" height="14" fill="#22ab94"/>
<rect x="789" y="375" width="6" height="15" fill="#22ab94"/>
<rect x="796" y="375" width="7" height="15" fill="#22ab94"/>
<rect x="804" y="375" width="6" height="15" fill="#ace5dc"/>
<rect x="811" y="376" width="7" height="14" fill="#ace5dc"/>
<rect x="819" y="376" width="6" height="14" fill="#ace5dc"/>
<rect x="826" y="377" width="7" height="13" fill="#ace5dc"/>
<rect x="834" y="381" width="6" height="9" fill="#ace5dc"/>
<rect x="841" y="382" width="7" height="8" fill="#ace5dc"/>
<rect x="849" y="384" width="6" height="6" fill="#ace5dc"/>
<rect x="856" y="386" width="7" height="4" fill="#ace5dc"/>
<rect x="864" y="387" width="6" height="3" fill="#ace5dc"/>
<rect x="871" y="388" width="7" height="2" fill="#ace5dc"/>
<rect x="879" y="389" width="6" height="1" fill="#ace5dc"/>
<rect x="886" y="389" width="7" height="1" fill="#22ab94"/>
<rect x="894" y="389" width="6" height="1" fill="#ff5252"/>
<rect x="901" y="389" width="7" height="2" fill="#ff5252"/>
<rect x="909" y="389" width="6" height="3" fill="#ff5252"/>
<rect x="916" y="389" width="7" height="3" fill="#ff5252"/>
<rect x="924" y="389" width="6" height="6" fill="#ff5252"/>
<rect x="931" y="389" width="7" height="10" fill="#ff5252"/>
<rect x="939" y="389" width="6" height="10" fill="#ff5252"/>
<rect x="946" y="389" width="7" height="11" fill="#ff5252"/>
<rect x="954" y="389" width="6" height="12" fill="#ff5252"/>
<rect x="961" y="389" width="7" height="10" fill="#fccbcd"/>
<rect x="969" y="389" width="6" height="9" fill="#fccbcd"/>
<rect x="976" y="389" width="7" height="9" fill="#fccbcd"/>
<rect x="984" y="389" width="6" height="10" fill="#ff5252"/>
<rect x="991" y="389" width="7" height="9" fill="#fccbcd"/>
<rect x="999" y="389" width="6" height="8" fill="#fccbcd"/>
<rect x="1006" y="389" width="7" height="9" fill="#ff5252"/>
<rect x="1014" y="389" width="6" height="8" fill="#fccbcd"/>
<rect x="1021" y="389" width="7" height="7" fill="#fccbcd"/>
<rect x="1029" y="389" width="6" height="7" fill="#ff5252"/>
<rect x="1036" y="389" width="7" height="9" fill="#ff5252"/>
<rect x="1044" y="389" width="6" height="12" fill="#ff5252"/>
<rect x="1051" y="389" width="7" height="13" fill="#ff5252"/>
<rect x="1059" y="389" width="6" height="12" fill="#fccbcd"/>
<rect x="1066" y="389" width="7" height="10" fill="#fccbcd"/>
<rect x="1074" y="389" width="6" height="5" fill="#fccbcd"/>
<rect x="1081" y="389" width="7" height="4" fill="#fccbcd"/>
<rect x="1089" y="389" width="6" height="4" fill="#fccbcd"/>
<rect x="1096" y="389" width="7" height="5" fill="#ff5252"/>
<rect x="1104" y="389" width="6" height="4" fill="#fccbcd"/>
<rect x="1111" y="389" width="7" height="4" fill="#fccbcd"/>
<rect x="1119" y="389" width="6" height="6" fill="#ff5252"/>
<rect x="1126" y="389" width="7" height="8" fill="#ff5252"/>
<rect x="1134" y="389" width="6" height="8" fill="#fccbcd"/>
<rect x="1141" y="389" width="7" height="8" fill="#ff5252"/>
<rect x="1149" y="389" width="6" height="7" fill="#fccbcd"/>
<rect x="1156" y="389" width="7" height="5" fill="#fccbcd"/>
<rect x="1164" y="389" width="6" height="2" fill="#fccbcd"/>
<rect x="1171" y="389" width="7" height="2" fill="#fccbcd"/>
<rect x="1179" y="389" width="6" height="1" fill="#fccbcd"/>
<rect x="1186" y="389" width="7" height="1" fill="#fccbcd"/>
<rect x="1194" y="389" width="6" height="3" fill="#ff5252"/>
<rect x="1201" y="389" width="7" height="3" fill="#ff5252"/>
<rect x="1209" y="389" width="6" height="3" fill="#ff5252"/>
<rect x="1216" y="389" width="7" height="2" fill="#fccbcd"/>
<rect x="1224" y="389" width="6" height="1" fill="#fccbcd"/>
<rect x="1231" y="389" width="7" height="1" fill="#22ab94"/>
<rect x="1239" y="387" width="6" height="3" fill="#22ab94"/>
<rect x="1246" y="384" width="7" height="6" fill="#22ab94"/>
<rect x="1254" y="383" width="6" height="7" fill="#22ab94"/>
<rect x="1261" y="383" width="7" height="7" fill="#22ab94"/>
<rect x="1269" y="383" width="6" height="7" fill="#22ab94"/>
<rect x="1276" y="382" width="7" height="8" fill="#22ab94"/>
<rect x="1284" y="379" width="6" height="11" fill="#22ab94"/>
<rect x="1291" y="379" width="7" height="11" fill="#22ab94"/>
<rect x="1299" y="378" width="6" height="12" fill="#22ab94"/>
<rect x="1306" y="378" width="7" height="12" fill="#22ab94"/>
<rect x="1314" y="380" width="6" height="10" fill="#ace5dc"/>
<rect x="1321" y="381" width="7" height="9" fill="#ace5dc"/>
<rect x="1329" y="383" width="6" height="7" fill="#ace5dc"/>
<rect x="1336" y="384" width="7" height="6" fill="#ace5dc"/>
<rect x="1344" y="389" width="6" height="2" fill="#ff5252"/>
<rect x="1351" y="389" width="7" height="4" fill="#ff5252"/>
<rect x="1359" y="389" width="6" height="4" fill="#fccbcd"/>
<rect x="1366" y="389" width="7" height="6" fill="#ff5252"/>
<rect x="1374" y="389" width="6" height="5" fill="#fccbcd"/>
<rect x="1381" y="389" width="7" height="9" fill="#ff5252"/>
<rect x="1389" y="389" width="6" height="12" fill="#ff5252"/>
<rect x="1396" y="389" width="7" height="14" fill="#ff5252"/>
<rect x="1404" y="389" width="6" height="14" fill="#ff5252"/>
<rect x="1411" y="389" width="7" height="15" fill="#ff5252"/>
<rect x="1419" y="389" width="6" height="14" fill="#fccbcd"/>
<rect x="1426" y="389" width="7" height="13" fill="#fccbcd"/>
<rect x="1434" y="389" width="6" height="13" fill="#ff5252"/>
<rect x="1441" y="389" width="7" height="11" fill="#fccbcd"/>
<rect x="1449" y="389" width="6" height="6" fill="#fccbcd"/>
<rect x="1456" y="389" width="7" height="3" fill="#fccbcd"/>
<rect x="1464" y="388" width="6" height="2" fill="#22ab94"/>
<rect x="1471" y="388" width="7" height="2" fill="#22ab94"/>
<rect x="1479" y="387" width="6" height="3" fill="#22ab94"/>
<rect x="1486" y="385" width="7" height="5" fill="#22ab94"/>
</g>
<g clip-path="url(#cm)" fill="none" stroke-width="1.3" stroke-linejoin="round">
<path d="M12.0,417.3 L19.5,421.1 L27.0,429.2 L34.5,436.3 L42.0,446.8 L49.5,458.7 L57.0,466.9 L64.5,468.0 L72.0,466.9 L79.5,466.4 L87.0,463.9 L94.5,461.9 L102.0,458.5 L109.5,451.3 L117.0,448.1 L124.5,447.0 L132.0,448.0 L139.5,448.3 L147.0,445.6 L154.5,446.7 L162.0,446.5 L169.5,446.9 L177.0,445.2 L184.5,442.4 L192.0,437.5 L199.5,431.5 L207.0,429.3 L214.5,430.4 L222.0,431.4 L229.5,433.9 L237.0,433.5 L244.5,434.2 L252.0,434.4 L259.5,435.0 L267.0,436.9 L274.5,438.3 L282.0,435.2 L289.5,432.7 L297.0,429.6 L304.5,424.3 L312.0,420.3 L319.5,417.5 L327.0,412.1 L334.5,407.3 L342.0,408.5 L349.5,406.3 L357.0,404.5 L364.5,397.4 L372.0,391.0 L379.5,382.5 L387.0,376.9 L394.5,372.6 L402.0,367.4 L409.5,365.0 L417.0,362.2 L424.5,359.2 L432.0,358.3 L439.5,357.0 L447.0,355.3 L454.5,355.6 L462.0,353.7 L469.5,352.1 L477.0,348.1 L484.5,347.3 L492.0,346.2 L499.5,343.9 L507.0,342.5 L514.5,341.8 L522.0,344.7 L529.5,345.4 L537.0,348.1 L544.5,352.0 L552.0,349.5 L559.5,351.4 L567.0,354.0 L574.5,354.1 L582.0,352.8 L589.5,350.3 L597.0,347.3 L604.5,349.6 L612.0,351.1 L619.5,352.6 L627.0,352.5 L634.5,354.9 L642.0,356.3 L649.5,359.4 L657.0,364.2 L664.5,372.0 L672.0,377.5 L679.5,385.5 L687.0,392.0 L694.5,397.2 L702.0,399.0 L709.5,401.3 L717.0,403.2 L724.5,402.0 L732.0,399.6 L739.5,396.3 L747.0,393.5 L754.5,389.3 L762.0,385.1 L769.5,383.3 L777.0,379.5 L784.5,371.7 L792.0,367.6 L799.5,363.0 L807.0,359.6 L814.5,357.5 L822.0,354.6 L829.5,352.7 L837.0,353.9 L844.5,354.1 L852.0,355.1 L859.5,355.4 L867.0,356.7 L874.5,357.4 L882.0,357.8 L889.5,357.5 L897.0,358.3 L904.5,359.8 L912.0,361.3 L919.5,362.4 L927.0,366.6 L934.5,372.5 L942.0,375.5 L949.5,379.0 L957.0,382.2 L964.5,382.6 L972.0,384.3 L979.5,385.7 L987.0,389.4 L994.5,390.5 L1002.0,391.7 L1009.5,394.7 L1017.0,395.3 L1024.5,396.4 L1032.0,398.2 L1039.5,402.4 L1047.0,407.9 L1054.5,412.3 L1062.0,414.3 L1069.5,414.4 L1077.0,410.5 L1084.5,410.6 L1092.0,411.2 L1099.5,413.3 L1107.0,413.3 L1114.5,414.2 L1122.0,418.1 L1129.5,421.9 L1137.0,423.2 L1144.5,425.3 L1152.0,426.4 L1159.5,425.5 L1167.0,422.9 L1174.5,422.6 L1182.0,422.7 L1189.5,422.7 L1197.0,424.4 L1204.5,424.9 L1212.0,426.3 L1219.5,426.0 L1227.0,424.4 L1234.5,423.7 L1242.0,421.0 L1249.5,417.5 L1257.0,414.3 L1264.5,412.8 L1272.0,411.0 L1279.5,408.4 L1287.0,403.5 L1294.5,400.8 L1302.0,397.3 L1309.5,394.0 L1317.0,393.5 L1324.5,392.7 L1332.0,392.9 L1339.5,393.6 L1347.0,400.2 L1354.5,403.4 L1362.0,404.1 L1369.5,407.5 L1377.0,407.0 L1384.5,413.0 L1392.0,419.2 L1399.5,424.6 L1407.0,428.0 L1414.5,432.8 L1422.0,435.0 L1429.5,436.8 L1437.0,440.2 L1444.5,440.9 L1452.0,437.2 L1459.5,435.4 L1467.0,431.3 L1474.5,431.0 L1482.0,429.4 L1489.5,426.6" stroke="#2196f3"/>
<path d="M12.0,399.9 L19.5,404.1 L27.0,409.2 L34.5,414.6 L42.0,421.0 L49.5,428.6 L57.0,436.2 L64.5,442.6 L72.0,447.4 L79.5,451.2 L87.0,453.8 L94.5,455.4 L102.0,456.0 L109.5,455.1 L117.0,453.7 L124.5,452.3 L132.0,451.5 L139.5,450.8 L147.0,449.8 L154.5,449.2 L162.0,448.6 L169.5,448.3 L177.0,447.7 L184.5,446.6 L192.0,444.8 L199.5,442.1 L207.0,439.6 L214.5,437.7 L222.0,436.5 L229.5,436.0 L237.0,435.5 L244.5,435.2 L252.0,435.0 L259.5,435.0 L267.0,435.4 L274.5,436.0 L282.0,435.8 L289.5,435.2 L297.0,434.1 L304.5,432.1 L312.0,429.7 L319.5,427.3 L327.0,424.3 L334.5,420.9 L342.0,418.4 L349.5,416.0 L357.0,413.7 L364.5,410.4 L372.0,406.5 L379.5,401.7 L387.0,396.8 L394.5,391.9 L402.0,387.0 L409.5,382.6 L417.0,378.5 L424.5,374.7 L432.0,371.4 L439.5,368.5 L447.0,365.9 L454.5,363.8 L462.0,361.8 L469.5,359.8 L477.0,357.5 L484.5,355.5 L492.0,353.6 L499.5,351.7 L507.0,349.8 L514.5,348.2 L522.0,347.5 L529.5,347.1 L537.0,347.3 L544.5,348.2 L552.0,348.5 L559.5,349.1 L567.0,350.1 L574.5,350.9 L582.0,351.3 L589.5,351.1 L597.0,350.3 L604.5,350.2 L612.0,350.4 L619.5,350.8 L627.0,351.1 L634.5,351.9 L642.0,352.8 L649.5,354.1 L657.0,356.1 L664.5,359.3 L672.0,362.9 L679.5,367.4 L687.0,372.4 L694.5,377.3 L702.0,381.7 L709.5,385.6 L717.0,389.1 L724.5,391.7 L732.0,393.3 L739.5,393.9 L747.0,393.8 L754.5,392.9 L762.0,391.3 L769.5,389.7 L777.0,387.7 L784.5,384.5 L792.0,381.1 L799.5,377.5 L807.0,373.9 L814.5,370.6 L822.0,367.4 L829.5,364.5 L837.0,362.4 L844.5,360.7 L852.0,359.6 L859.5,358.7 L867.0,358.3 L874.5,358.2 L882.0,358.1 L889.5,358.0 L897.0,358.0 L904.5,358.4 L912.0,359.0 L919.5,359.6 L927.0,361.0 L934.5,363.3 L942.0,365.8 L949.5,368.4 L957.0,371.2 L964.5,373.5 L972.0,375.6 L979.5,377.6 L987.0,380.0 L994.5,382.1 L1002.0,384.0 L1009.5,386.1 L1017.0,388.0 L1024.5,389.7 L1032.0,391.4 L1039.5,393.6 L1047.0,396.4 L1054.5,399.6 L1062.0,402.5 L1069.5,404.9 L1077.0,406.0 L1084.5,407.0 L1092.0,407.8 L1099.5,408.9 L1107.0,409.8 L1114.5,410.7 L1122.0,412.1 L1129.5,414.1 L1137.0,415.9 L1144.5,417.8 L1152.0,419.5 L1159.5,420.7 L1167.0,421.1 L1174.5,421.4 L1182.0,421.7 L1189.5,421.9 L1197.0,422.4 L1204.5,422.9 L1212.0,423.6 L1219.5,424.1 L1227.0,424.1 L1234.5,424.0 L1242.0,423.4 L1249.5,422.2 L1257.0,420.7 L1264.5,419.1 L1272.0,417.5 L1279.5,415.7 L1287.0,413.2 L1294.5,410.8 L1302.0,408.1 L1309.5,405.3 L1317.0,402.9 L1324.5,400.9 L1332.0,399.3 L1339.5,398.1 L1347.0,398.6 L1354.5,399.5 L1362.0,400.4 L1369.5,401.8 L1377.0,402.9 L1384.5,404.9 L1392.0,407.8 L1399.5,411.1 L1407.0,414.5 L1414.5,418.2 L1422.0,421.5 L1429.5,424.6 L1437.0,427.7 L1444.5,430.4 L1452.0,431.7 L1459.5,432.5 L1467.0,432.2 L1474.5,432.0 L1482.0,431.5 L1489.5,430.5" stroke="#ff6d00"/>
</g>
<g stroke="#787b86" stroke-width="1" stroke-dasharray="6 5" stroke-dashoffset="0.7" shape-rendering="crispEdges">
<line x1="14" x2="1568" y1="502.5" y2="502.5"/>
<line x1="14" x2="1568" y1="545.5" y2="545.5"/>
<line x1="14" x2="1568" y1="589.5" y2="589.5"/>
</g>
<g clip-path="url(#cr)" fill="none" stroke-width="1.3" stroke-linejoin="round">
<path d="M12.0,586.4 L19.5,595.6 L27.0,610.3 L34.5,612.8 L42.0,621.9 L49.5,627.5 L57.0,624.7 L64.5,595.9 L72.0,590.0 L79.5,593.2 L87.0,585.6 L94.5,588.0 L102.0,581.7 L109.5,561.2 L117.0,571.9 L124.5,578.1 L132.0,585.2 L139.5,585.4 L147.0,573.3 L154.5,584.4 L162.0,582.3 L169.5,585.5 L177.0,578.2 L184.5,573.1 L192.0,561.3 L199.5,553.6 L207.0,565.1 L214.5,576.3 L222.0,578.2 L229.5,584.5 L237.0,574.1 L244.5,579.0 L252.0,579.5 L259.5,582.8 L267.0,588.7 L274.5,590.2 L282.0,567.2 L289.5,568.8 L297.0,564.9 L304.5,551.5 L312.0,554.1 L319.5,557.6 L327.0,541.2 L334.5,540.4 L342.0,564.4 L349.5,549.7 L357.0,550.5 L364.5,527.4 L372.0,524.6 L379.5,513.8 L387.0,518.8 L394.5,518.5 L402.0,511.9 L409.5,519.8 L417.0,515.9 L424.5,512.0 L432.0,518.6 L439.5,515.1 L447.0,511.2 L454.5,519.8 L462.0,510.1 L469.5,508.5 L477.0,498.0 L484.5,510.8 L492.0,507.6 L499.5,501.4 L507.0,501.0 L514.5,500.5 L522.0,521.8 L529.5,513.6 L537.0,524.5 L544.5,532.1 L552.0,509.7 L559.5,528.2 L567.0,531.1 L574.5,522.9 L582.0,516.8 L589.5,510.9 L597.0,506.6 L604.5,528.5 L612.0,525.8 L619.5,525.5 L627.0,519.5 L634.5,530.5 L642.0,527.1 L649.5,535.6 L657.0,545.8 L664.5,561.7 L672.0,557.4 L679.5,570.8 L687.0,571.2 L694.5,571.5 L702.0,559.3 L709.5,563.6 L717.0,564.6 L724.5,550.3 L732.0,543.4 L739.5,537.2 L747.0,536.2 L754.5,527.1 L762.0,523.2 L769.5,531.9 L777.0,521.4 L784.5,503.7 L792.0,514.9 L799.5,509.8 L807.0,509.3 L814.5,511.1 L822.0,505.2 L829.5,505.8 L837.0,521.4 L844.5,516.8 L852.0,519.5 L859.5,515.8 L867.0,521.2 L874.5,517.8 L882.0,515.0 L889.5,510.7 L897.0,515.9 L904.5,521.0 L912.0,521.6 L919.5,518.7 L927.0,544.8 L934.5,560.9 L942.0,547.3 L949.5,553.8 L957.0,555.8 L964.5,541.1 L972.0,549.3 L979.5,549.3 L987.0,565.2 L994.5,552.1 L1002.0,554.6 L1009.5,565.9 L1017.0,553.9 L1024.5,558.5 L1032.0,563.5 L1039.5,578.0 L1047.0,586.9 L1054.5,588.4 L1062.0,578.2 L1069.5,569.6 L1077.0,545.9 L1084.5,562.0 L1092.0,565.8 L1099.5,572.9 L1107.0,565.0 L1114.5,569.7 L1122.0,582.9 L1129.5,586.1 L1137.0,577.6 L1144.5,583.0 L1152.0,581.4 L1159.5,572.3 L1167.0,562.5 L1174.5,572.0 L1182.0,574.4 L1189.5,576.2 L1197.0,584.5 L1204.5,581.2 L1212.0,586.8 L1219.5,578.7 L1227.0,570.8 L1234.5,575.6 L1242.0,562.4 L1249.5,555.3 L1257.0,554.2 L1264.5,562.1 L1272.0,559.0 L1279.5,551.9 L1287.0,533.8 L1294.5,543.7 L1302.0,535.5 L1309.5,533.1 L1317.0,547.3 L1324.5,545.5 L1332.0,551.1 L1339.5,555.0 L1347.0,584.9 L1354.5,571.8 L1362.0,561.2 L1369.5,574.1 L1377.0,556.5 L1384.5,579.7 L1392.0,584.2 L1399.5,586.5 L1407.0,584.2 L1414.5,591.3 L1422.0,584.6 L1429.5,586.6 L1437.0,593.4 L1444.5,584.8 L1452.0,564.1 L1459.5,570.2 L1467.0,559.0 L1474.5,570.7 L1482.0,566.5 L1489.5,560.8" stroke="#7e57c2"/>
</g>
<text x="22.7" y="37.5" font-size="15" fill="#454853" font-weight="normal" text-anchor="start" textLength="119.1" lengthAdjust="spacingAndGlyphs">USD/JPY Spot, 1D</text>
<text x="150.9" y="37.5" font-size="15" fill="#454853" font-weight="normal" text-anchor="start" textLength="10.7" lengthAdjust="spacingAndGlyphs">O</text>
<text x="162.6" y="37.5" font-size="15" fill="#2e8555" font-weight="normal" text-anchor="start" textLength="43.5" lengthAdjust="spacingAndGlyphs">142.33</text>
<text x="215.5" y="37.5" font-size="15" fill="#454853" font-weight="normal" text-anchor="start" textLength="10.2" lengthAdjust="spacingAndGlyphs">H</text>
<text x="225.8" y="37.5" font-size="15" fill="#2e8555" font-weight="normal" text-anchor="start" textLength="43.9" lengthAdjust="spacingAndGlyphs">143.19</text>
<text x="279.0" y="37.5" font-size="15" fill="#454853" font-weight="normal" text-anchor="start" textLength="7.6" lengthAdjust="spacingAndGlyphs">L</text>
<text x="287.4" y="37.5" font-size="15" fill="#2e8555" font-weight="normal" text-anchor="start" textLength="44.2" lengthAdjust="spacingAndGlyphs">142.16</text>
<text x="340.1" y="37.5" font-size="15" fill="#454853" font-weight="normal" text-anchor="start" textLength="9.7" lengthAdjust="spacingAndGlyphs">C</text>
<text x="350.2" y="37.5" font-size="15" fill="#2e8555" font-weight="normal" text-anchor="start" textLength="44.2" lengthAdjust="spacingAndGlyphs">142.99</text>
<text x="403.3" y="37.5" font-size="15" fill="#2e8555" font-weight="normal" text-anchor="start" textLength="36.9" lengthAdjust="spacingAndGlyphs">+0.65</text>
<text x="445.1" y="37.5" font-size="15" fill="#2e8555" font-weight="normal" text-anchor="start" textLength="57.0" lengthAdjust="spacingAndGlyphs">(+0.45%)</text>
<text x="23.2" y="58.6" font-size="15" fill="#454853" font-weight="normal" text-anchor="start" textLength="48.6" lengthAdjust="spacingAndGlyphs">Volume</text>
<text x="81.3" y="58.6" font-size="15" fill="#26a69a" font-weight="normal" text-anchor="start" textLength="61.6" lengthAdjust="spacingAndGlyphs">190.513K</text>
<text x="22.6" y="79.8" font-size="15" fill="#454853" font-weight="normal" text-anchor="start" textLength="299.7" lengthAdjust="spacingAndGlyphs">Moving Average Triple (20, 100, 200, Simple)</text>
<text x="331.6" y="79.8" font-size="15" fill="#ff6d00" font-weight="normal" text-anchor="start" textLength="45.7" lengthAdjust="spacingAndGlyphs">143.77</text>
<text x="385.5" y="79.8" font-size="15" fill="#2196f3" font-weight="normal" text-anchor="start" textLength="45.1" lengthAdjust="spacingAndGlyphs">151.18</text>
<text x="439.3" y="79.8" font-size="15" fill="#26c6da" font-weight="normal" text-anchor="start" textLength="44.3" lengthAdjust="spacingAndGlyphs">149.91</text>
<text x="22.6" y="100.6" font-size="15" fill="#454853" font-weight="normal" text-anchor="start" textLength="121.2" lengthAdjust="spacingAndGlyphs">EMA (10, close, 0)</text>
<text x="153.5" y="100.6" font-size="15" fill="#2196f3" font-weight="normal" text-anchor="start" textLength="44.6" lengthAdjust="spacingAndGlyphs">142.88</text>
<text x="21.8" y="351.4" font-size="15" fill="#454853" font-weight="normal" text-anchor="start" textLength="158.1" lengthAdjust="spacingAndGlyphs">MACD (12, 26, close, 9)</text>
<text x="189.0" y="351.4" font-size="15" fill="#26a69a" font-weight="normal" text-anchor="start" textLength="29.0" lengthAdjust="spacingAndGlyphs">0.16</text>
<text x="226.3" y="351.4" font-size="15" fill="#2196f3" font-weight="normal" text-anchor="start" textLength="37.9" lengthAdjust="spacingAndGlyphs">−1.55</text>
<text x="272.7" y="351.4" font-size="15" fill="#ff6d00" font-weight="normal" text-anchor="start" textLength="36.5" lengthAdjust="spacingAndGlyphs">−1.71</text>
<text x="21.9" y="508.3" font-size="15" fill="#454853" font-weight="normal" text-anchor="start" textLength="53.2" lengthAdjust="spacingAndGlyphs">RSI (14)</text>
<text x="83.3" y="508.3" font-size="15" fill="#7e57c2" font-weight="normal" text-anchor="start" textLength="37.0" lengthAdjust="spacingAndGlyphs">43.02</text>
<text x="1577.6" y="34.3" font-size="15" fill="#454853" font-weight="normal" text-anchor="start" textLength="45.4" lengthAdjust="spacingAndGlyphs">160.00</text>
<text x="1577.6" y="87.2" font-size="15" fill="#454853" font-weight="normal" text-anchor="start" textLength="45.4" lengthAdjust="spacingAndGlyphs">156.00</text>
<text x="1577.6" y="140.1" font-size="15" fill="#454853" font-weight="normal" text-anchor="start" textLength="45.4" lengthAdjust="spacingAndGlyphs">152.00</text>
<text x="1577.6" y="193.0" font-size="15" fill="#454853" font-weight="normal" text-anchor="start" textLength="45.4" lengthAdjust="spacingAndGlyphs">148.00</text>
<text x="1577.6" y="346.2" font-size="15" fill="#454853" font-weight="normal" text-anchor="start" textLength="29.9" lengthAdjust="spacingAndGlyphs">2.00</text>
<text x="1577.6" y="529.2" font-size="15" fill="#454853" font-weight="normal" text-anchor="start" textLength="37.6" lengthAdjust="spacingAndGlyphs">60.00</text>
<text x="1577.6" y="572.7" font-size="15" fill="#454853" font-weight="normal" text-anchor="start" textLength="37.6" lengthAdjust="spacingAndGlyphs">40.00</text>
<text x="1577.6" y="616.1" font-size="15" fill="#454853" font-weight="normal" text-anchor="start" textLength="37.6" lengthAdjust="spacingAndGlyphs">20.00</text>
<text x="1577.6" y="442.6" font-size="15" fill="#454853" font-weight="normal" text-anchor="start" textLength="38.0" lengthAdjust="spacingAndGlyphs">−2.00</text>
<path d="M1568,131.2 H1627.4 a2,2 0 0 1 2,2 V149.6 a2,2 0 0 1 -2,2 H1568 Z" fill="#2196f3"/>
<text x="1577.6" y="146.1" font-size="15" fill="#fff" stroke="#fff" stroke-width="0.35" textLength="45.4" lengthAdjust="spacingAndGlyphs">151.18</text>
<path d="M1568,152.3 H1627.4 a2,2 0 0 1 2,2 V170.7 a2,2 0 0 1 -2,2 H1568 Z" fill="#26c6da"/>
<text x="1577.6" y="167.2" font-size="15" fill="#000" stroke="#000" stroke-width="0" textLength="45.4" lengthAdjust="spacingAndGlyphs">149.91</text>
<path d="M1568,223.6 H1627.4 a2,2 0 0 1 2,2 V242.0 a2,2 0 0 1 -2,2 H1568 Z" fill="#ff6d00"/>
<text x="1577.6" y="238.5" font-size="15" fill="#fff" stroke="#fff" stroke-width="0.35" textLength="45.4" lengthAdjust="spacingAndGlyphs">143.77</text>
<path d="M1568,244.4 H1627.4 a2,2 0 0 1 2,2 V262.8 a2,2 0 0 1 -2,2 H1568 Z" fill="#2e8555"/>
<text x="1577.6" y="259.3" font-size="15" fill="#fff" stroke="#fff" stroke-width="0.35" textLength="45.4" lengthAdjust="spacingAndGlyphs">142.99</text>
<path d="M1568,265.4 H1627.4 a2,2 0 0 1 2,2 V283.8 a2,2 0 0 1 -2,2 H1568 Z" fill="#2196f3"/>
<text x="1577.6" y="280.3" font-size="15" fill="#fff" stroke="#fff" stroke-width="0.35" textLength="45.4" lengthAdjust="spacingAndGlyphs">142.88</text>
<path d="M1568,286.1 H1640.5 a2,2 0 0 1 2,2 V304.5 a2,2 0 0 1 -2,2 H1568 Z" fill="#26a69a"/>
<text x="1577.6" y="301.0" font-size="15" fill="#fff" stroke="#fff" stroke-width="0.35" textLength="62.3" lengthAdjust="spacingAndGlyphs">190.513K</text>
<path d="M1568,375.4 H1611.9 a2,2 0 0 1 2,2 V393.8 a2,2 0 0 1 -2,2 H1568 Z" fill="#26a69a"/>
<text x="1577.6" y="390.3" font-size="15" fill="#fff" stroke="#fff" stroke-width="0.35" textLength="30.1" lengthAdjust="spacingAndGlyphs">0.16</text>
<path d="M1568,416.3 H1620.0 a2,2 0 0 1 2,2 V434.7 a2,2 0 0 1 -2,2 H1568 Z" fill="#2196f3"/>
<text x="1577.6" y="431.2" font-size="15" fill="#fff" stroke="#fff" stroke-width="0.35" textLength="37.9" lengthAdjust="spacingAndGlyphs">−1.55</text>
<path d="M1568,438.2 H1619.5 a2,2 0 0 1 2,2 V456.6 a2,2 0 0 1 -2,2 H1568 Z" fill="#ff6d00"/>
<text x="1577.6" y="453.1" font-size="15" fill="#fff" stroke="#fff" stroke-width="0.35" textLength="37.2" lengthAdjust="spacingAndGlyphs">−1.71</text>
<path d="M1568,551.5 H1620.0 a2,2 0 0 1 2,2 V569.9 a2,2 0 0 1 -2,2 H1568 Z" fill="#7e57c2"/>
<text x="1577.6" y="566.4" font-size="15" fill="#fff" stroke="#fff" stroke-width="0.35" textLength="37.6" lengthAdjust="spacingAndGlyphs">43.02</text>
<text x="34.5" y="662.2" font-size="14.5" fill="#454853" font-weight="normal" text-anchor="middle">Aug</text>
<text x="199.5" y="662.2" font-size="14.5" fill="#454853" font-weight="normal" text-anchor="middle">Sep</text>
<text x="357.5" y="662.2" font-size="14.5" fill="#454853" font-weight="normal" text-anchor="middle">Oct</text>
<text x="529.5" y="662.2" font-size="14.5" fill="#454853" font-weight="normal" text-anchor="middle">Nov</text>
<text x="687.5" y="662.2" font-size="14.5" fill="#454853" font-weight="normal" text-anchor="middle">Dec</text>
<text x="852.5" y="662.2" font-size="14.5" fill="#454853" font-weight="bold" text-anchor="middle">2025</text>
<text x="1024.5" y="662.2" font-size="14.5" fill="#454853" font-weight="normal" text-anchor="middle">Feb</text>
<text x="1174.5" y="662.2" font-size="14.5" fill="#454853" font-weight="normal" text-anchor="middle">Mar</text>
<text x="1332.5" y="662.2" font-size="14.5" fill="#454853" font-weight="normal" text-anchor="middle">Apr</text>
<text x="1497.5" y="662.2" font-size="14.5" fill="#454853" font-weight="normal" text-anchor="middle">May</text>
<g transform="translate(13,686.9) scale(0.678)" fill="#131722"><path d="M14 22H7V11H0V4h14v18zM28 22h-8l7.5-18h8L28 22z"/><circle cx="20" cy="8" r="4"/></g>
<text x="42.1" y="701.7" font-size="15" fill="#131722" font-weight="normal" text-anchor="start" textLength="87.5" lengthAdjust="spacingAndGlyphs">TradingView</text>
</svg></body></html>
